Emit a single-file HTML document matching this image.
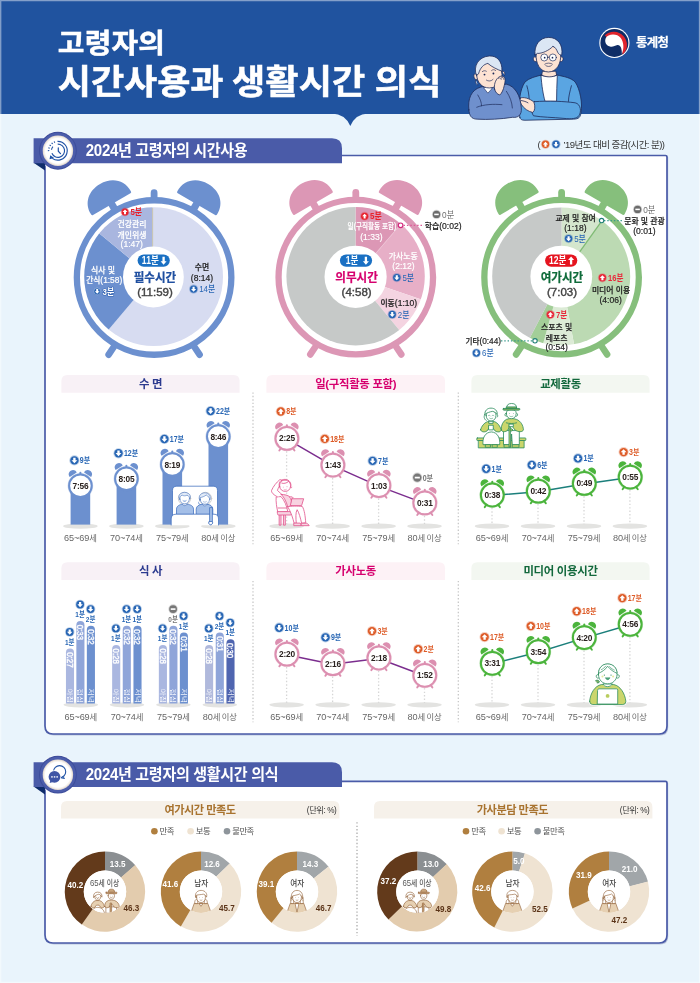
<!DOCTYPE html>
<html lang="ko"><head><meta charset="utf-8"><title>고령자의 시간사용과 생활시간 의식</title>
<style>
html,body{margin:0;padding:0;background:#e9f4fc;}
body{width:700px;height:983px;overflow:hidden;position:relative;font-family:"Liberation Sans","Noto Sans CJK KR",sans-serif;}
svg{display:block;position:absolute;left:0;top:0;}
svg text{font-family:"Liberation Sans","Noto Sans CJK KR",sans-serif;}
</style></head><body>
<svg width="700" height="983" viewBox="0 0 700 983">
<rect x="0" y="0" width="700" height="983" fill="#e9f4fc"/>
<rect x="0" y="0" width="700" height="114" fill="#20539f"/>
<path d="M332 113.6H368Q355.6 114 350.3 126Q345 114 332 113.6Z" fill="#20539f"/>
<text transform="translate(57.80 53.20) scale(1.05 1)" font-size="27.6" fill="#fff" font-weight="bold" text-anchor="start" letter-spacing="0.2" stroke="#fff" stroke-width="0.5">고령자의</text>
<text transform="translate(57.80 94.40) scale(1.05 1)" font-size="34.4" fill="#fff" font-weight="bold" text-anchor="start" letter-spacing="-0.1" stroke="#fff" stroke-width="0.5">시간사용과</text>
<text transform="translate(232.00 94.40) scale(1.05 1)" font-size="34.4" fill="#fff" font-weight="bold" text-anchor="start" letter-spacing="0.1" stroke="#fff" stroke-width="0.5">생활시간</text>
<text transform="translate(374.80 94.40) scale(1.05 1)" font-size="34.4" fill="#fff" font-weight="bold" text-anchor="start" letter-spacing="0.3" stroke="#fff" stroke-width="0.5">의식</text>
<g transform="translate(614.4 42.9)"><circle r="15.1" fill="#fff"/><circle r="14" fill="#0f2d66"/><path d="M-9.6 -7.6A12.4 12.4 0 0 1 8.4 11.6L6 2L-6 -4Z" fill="#e0242c"/><path d="M-8.6 -4.8C-6.6 -9.4 2.6 -10 6.4 -5C9.6 -0.4 9.8 6.2 7.4 11C7.8 5.4 6 1.8 3 2.2C0.8 2.6 -1 4 -3.6 3.8C-8 3.4 -10.4 -0.8 -8.6 -4.8Z" fill="#fff"/></g>
<text x="636.00" y="47.40" font-size="12.4" fill="#fff" font-weight="bold" text-anchor="start" letter-spacing="-0.6" stroke="#fff" stroke-width="0.2">통계청</text>
<g transform="translate(460 30) scale(0.18571)" stroke="#1b2857" stroke-width="4.2" stroke-linejoin="round" stroke-linecap="round">
<!-- man body -->
<path d="M322 470C312 400 322 320 350 280C372 258 410 250 440 242L520 242C560 250 600 258 620 280C648 320 660 400 652 440C650 470 640 480 610 480L350 486C332 486 324 482 322 470Z" fill="#5aa5e2"/>
<path d="M436 244C440 300 448 350 458 384L520 384C520 340 522 290 524 244C500 252 460 252 436 244Z" fill="#fff"/>
<path d="M440 242L444 222H516L520 242C500 256 460 256 440 242Z" fill="#fde3d3"/>
<path d="M360 300C368 330 372 350 372 372M600 300C592 330 584 360 584 384" fill="none"/>
<path d="M400 386C480 380 560 384 620 392C650 398 656 440 640 462C630 478 600 480 560 476C500 470 440 470 396 462C380 440 382 400 400 386Z" fill="#5aa5e2"/>
<path d="M326 366C340 360 372 366 398 388C406 410 404 436 392 444C370 440 344 424 330 400C322 388 320 374 326 366Z" fill="#fde3d3"/>
<path d="M330 380C344 382 356 386 366 392" fill="none"/>
<!-- man head -->
<path d="M408 146C400 140 392 150 396 162C400 172 408 172 412 168M542 146C550 140 558 150 554 162C550 172 542 172 538 168" fill="#fde3d3"/>
<path d="M410 130C410 100 440 86 476 86C512 86 542 100 542 130C546 180 520 226 476 226C432 226 406 180 410 130Z" fill="#fde3d3"/>
<path d="M404 134C398 80 430 40 478 40C526 40 556 80 548 134C540 136 532 132 526 120C520 104 512 92 500 88C480 110 440 128 416 126C412 130 408 134 404 134Z" fill="#dbe6f4"/>
<circle cx="454" cy="148" r="19" fill="#fff" stroke-width="3.6"/><circle cx="500" cy="148" r="19" fill="#fff" stroke-width="3.6"/>
<path d="M473 146H481" fill="none" stroke-width="3.4"/>
<circle cx="456" cy="149" r="4.6" fill="#1b2857" stroke="none"/><circle cx="498" cy="149" r="4.6" fill="#1b2857" stroke="none"/>
<path d="M456 184C464 176 490 176 498 184M462 192C470 198 484 198 492 192" fill="none" stroke-width="3.4"/>
<!-- woman body -->
<path d="M48 430C40 370 62 322 110 308L150 298L250 292C296 302 326 352 330 420C334 458 312 474 284 470C220 480 150 484 92 480C60 480 50 460 48 430Z" fill="#6f90cd"/>
<path d="M128 312L150 340L172 316L160 300Z" fill="#fff" stroke-width="3.4"/>
<path d="M90 416C130 400 180 398 226 402M96 350C110 372 116 392 116 408M250 330C270 360 280 390 282 420" fill="none" stroke-width="3.6"/>
<!-- woman head -->
<path d="M84 236C74 232 72 250 78 260C84 270 92 268 96 264M228 224C238 218 244 232 240 244" fill="#fde3d3"/>
<path d="M90 240C90 200 118 178 156 178C194 178 224 198 226 240C228 282 198 312 158 312C118 312 90 282 90 240Z" fill="#fde3d3"/>
<path d="M88 242C70 200 96 144 158 140C200 138 228 168 226 222C204 214 170 198 150 180C128 184 108 204 100 236C96 240 92 242 88 242Z" fill="#dbe6f4"/>
<path d="M86 270C80 280 84 292 96 296" fill="#dbe6f4"/>
<circle cx="132" cy="240" r="5" fill="#1b2857" stroke="none"/><circle cx="180" cy="234" r="5" fill="#1b2857" stroke="none"/>
<path d="M120 224C126 218 136 218 142 222M170 218C176 212 186 212 192 218M142 270C152 278 170 276 178 266" fill="none" stroke-width="3.4"/>
<!-- hand on cheek -->
<path d="M186 318C182 296 190 270 206 256C214 248 226 246 236 252C246 260 244 280 238 300C234 320 226 340 214 350C200 346 190 334 186 318Z" fill="#fde3d3"/>
<path d="M206 262C212 254 220 256 222 266M222 258C228 252 236 256 236 266" fill="none" stroke-width="3.2"/>
</g>
<g>
<text x="537.50" y="148.20" font-size="9.5" fill="#333" font-weight="normal" text-anchor="start" >(</text>
<g transform="translate(545.50 144.30)"><circle r="4.60" fill="#dd5b27" opacity="0.3"/><circle r="3.70" fill="#dd5b27"/><path transform="scale(0.860)" d="M0 -3L3 0.2H1.2V2.8H-1.2V0.2H-3Z" fill="#fff"/></g>
<g transform="translate(556.00 144.30)"><circle r="4.60" fill="#2866b4" opacity="0.3"/><circle r="3.70" fill="#2866b4"/><path transform="scale(0.860)" d="M0 3L3 -0.2H1.2V-2.8H-1.2V-0.2H-3Z" fill="#fff"/></g>
<text x="563.50" y="148.20" font-size="9.5" fill="#333" font-weight="normal" text-anchor="start" letter-spacing="-0.55" >’19년도 대비 증감(시간: 분))</text>
</g>
<path d="M47.7 156.1H666.7Q668.2 156.1 668.2 157.6V727.4Q668.2 735.4 660.2 735.4H54.2Q46.2 735.4 46.2 727.4V157.6Q46.2 156.1 47.7 156.1Z" fill="#8f98bd" opacity="0.5"/><path d="M46.5 155.5H665.5Q667 155.5 667 157.0V726Q667 734 659 734H53Q45 734 45 726V157.0Q45 155.5 46.5 155.5Z" fill="#fff" stroke="#4a5ba8" stroke-width="1.7"/>
<circle cx="57.900000000000006" cy="150.75" r="19.8" fill="#fff" opacity="0.6"/><path d="M33.6 162.7H45.0V170.6Z" fill="#0f2c6b"/><path d="M33.6 138.3H332Q342 138.3 342 148.3V163.2H33.6Z" fill="#4a5ba8"/><text transform="translate(85.80 156.35) scale(0.93 1)" font-size="16.2" fill="#fff" font-weight="bold" text-anchor="start" letter-spacing="-0.35" >2024년 고령자의 시간사용</text><circle cx="57.900000000000006" cy="150.75" r="18.9" fill="#3d4d9b"/><circle cx="57.900000000000006" cy="150.75" r="17.9" fill="#4c5dab"/><circle cx="57.900000000000006" cy="150.75" r="15.2" fill="#e6ddd3"/><circle cx="57.900000000000006" cy="150.75" r="14.2" fill="#f6f2ee"/><circle cx="57.900000000000006" cy="150.75" r="13" fill="#fff"/><g transform="translate(57.900000000000006 150.75)"><path d="M-0.4 -9.4A9.4 9.4 0 1 1 -5.6 7.6" fill="none" stroke="#2153a6" stroke-width="1.15"/><path d="M-0.2 -6.6A6.6 6.6 0 1 1 -6 2.6" fill="none" stroke="#2153a6" stroke-width="1.15"/><path d="M-9.3 0.4A9.4 9.4 0 0 1 -2.4 -9" fill="none" stroke="#2153a6" stroke-width="1.5" stroke-dasharray="1.1 1.6"/><path d="M-6.4 -1A6.6 6.6 0 0 1 -5 -4.2" fill="none" stroke="#2153a6" stroke-width="1.15"/><path d="M-8.4 8.6L-7.6 4.4L-3.8 7.2Z" fill="#2153a6"/><path d="M0.4 -2.8V0.4L2.6 2.8" fill="none" stroke="#2153a6" stroke-width="1.2" stroke-linecap="round"/></g>
<path d="M47.7 782.0H666.7Q668.2 782.0 668.2 783.5V936.4Q668.2 944.4 660.2 944.4H54.2Q46.2 944.4 46.2 936.4V783.5Q46.2 782.0 47.7 782.0Z" fill="#8f98bd" opacity="0.5"/><path d="M46.5 781.4H665.5Q667 781.4 667 782.9V935Q667 943 659 943H53Q45 943 45 935V782.9Q45 781.4 46.5 781.4Z" fill="#fff" stroke="#4a5ba8" stroke-width="1.7"/>
<circle cx="57.900000000000006" cy="774.7" r="19.8" fill="#fff" opacity="0.6"/><path d="M33.6 786.6H45.0V794.5Z" fill="#0f2c6b"/><path d="M33.6 762.3H332Q342 762.3 342 772.3V787.1H33.6Z" fill="#4a5ba8"/><text transform="translate(85.80 780.30) scale(0.93 1)" font-size="16.2" fill="#fff" font-weight="bold" text-anchor="start" letter-spacing="-0.35" >2024년 고령자의 생활시간 의식</text><circle cx="57.900000000000006" cy="774.7" r="18.9" fill="#3d4d9b"/><circle cx="57.900000000000006" cy="774.7" r="17.9" fill="#4c5dab"/><circle cx="57.900000000000006" cy="774.7" r="15.2" fill="#e6ddd3"/><circle cx="57.900000000000006" cy="774.7" r="14.2" fill="#f6f2ee"/><circle cx="57.900000000000006" cy="774.7" r="13" fill="#fff"/><g transform="translate(57.900000000000006 774.7)"><circle cx="1.7" cy="-3" r="6.1" fill="#fff" stroke="#2153a6" stroke-width="1.1"/><path d="M5.2 2L6.6 3.8L3.6 3.2Z" fill="#fff" stroke="#2153a6" stroke-width="1" stroke-linejoin="round"/><circle cx="-3.4" cy="2.1" r="6.6" fill="#fff"/><circle cx="-3.4" cy="2.1" r="5.9" fill="#3f55a6"/><path d="M-7.6 5.6L-8.2 8.4L-5 7.2Z" fill="#3f55a6"/><rect x="-6.7" y="1.5" width="1.5" height="1.4" fill="#fff"/><rect x="-4.1" y="1.5" width="1.5" height="1.4" fill="#fff"/><rect x="-1.5" y="1.5" width="1.5" height="1.4" fill="#fff"/></g>
<line x1="115.40" y1="344.53" x2="108.62" y2="354.70" stroke="#6c90cf" stroke-width="6.6" stroke-linecap="round"/><line x1="192.80" y1="344.53" x2="199.58" y2="354.70" stroke="#6c90cf" stroke-width="6.6" stroke-linecap="round"/><line x1="114.90" y1="209.60" x2="110.40" y2="201.81" stroke="#6c90cf" stroke-width="7.2"/><g transform="translate(111.75 204.15) rotate(-30)"><path d="M-21.6 0H21.6Q23 0 23 -1.6C23.4 -14.6 13.6 -23.4 0 -23.4C-13.6 -23.4 -23.4 -14.6 -23 -1.6Q-23 0 -21.6 0Z" fill="#6c90cf"/></g><line x1="193.30" y1="209.60" x2="197.80" y2="201.81" stroke="#6c90cf" stroke-width="7.2"/><g transform="translate(196.45 204.15) rotate(30)"><path d="M-21.6 0H21.6Q23 0 23 -1.6C23.4 -14.6 13.6 -23.4 0 -23.4C-13.6 -23.4 -23.4 -14.6 -23 -1.6Q-23 0 -21.6 0Z" fill="#6c90cf"/></g><line x1="154.1" y1="199.1" x2="154.1" y2="192.7" stroke="#6c90cf" stroke-width="6.8" stroke-linecap="round"/><circle cx="154.1" cy="277.5" r="77.25" fill="#fff" stroke="#6c90cf" stroke-width="6.3"/>
<clipPath id="pc1"><circle cx="153.6" cy="276.6" r="69.4"/></clipPath><g clip-path="url(#pc1)"><path d="M152.60 277.60L152.60 166.56A111.04000000000002 111.04000000000002 0 1 1 80.93 362.41Z" fill="#d7dcf1" /><path d="M152.60 277.60L80.93 362.41A111.04000000000002 111.04000000000002 0 0 1 67.17 206.67Z" fill="#6c90cf" /><path d="M152.60 277.60L67.17 206.67A111.04000000000002 111.04000000000002 0 0 1 152.60 166.56Z" fill="#a9b6df" /></g>
<line x1="152.6" y1="208.1" x2="152.6" y2="248.5" stroke="#c9c6b4" stroke-width="1.1"/>
<circle cx="153.4" cy="277.0" r="30.4" fill="#fff"/>
<rect x="137.60" y="254.45" width="32.2" height="12.3" rx="6.15" fill="#1a70c3"/><text transform="translate(150.30 264.20) scale(0.83 1)" font-size="10.3" fill="#fff" font-weight="bold" text-anchor="middle" letter-spacing="0" >11분</text><path transform="translate(163.60 260.60)" d="M0 4.2L3 0.6H1.15V-3.9H-1.15V0.6H-3Z" fill="#fff"/>
<text transform="translate(155.00 282.00) scale(0.94 1)" font-size="12.3" fill="#1f4fa0" font-weight="bold" text-anchor="middle" letter-spacing="0" stroke="#1f4fa0" stroke-width="0.25">필수시간</text><text transform="translate(155.00 296.30) scale(1.03 1)" font-size="11.2" fill="#444" font-weight="normal" text-anchor="middle" letter-spacing="0" stroke="#444" stroke-width="0.4">(11:59)</text>
<g transform="translate(125.00 211.90)"><circle r="4.40" fill="#e8212b" opacity="0.3"/><circle r="3.50" fill="#e8212b"/><path transform="scale(0.814)" d="M0 -3L3 0.2H1.2V2.8H-1.2V0.2H-3Z" fill="#fff"/></g><text transform="translate(130.40 215.07) scale(0.9 1)" font-size="8.8" fill="#e8212b" font-weight="bold" text-anchor="start" letter-spacing="0" >5분</text>
<text transform="translate(132.00 227.13) scale(0.94 1)" font-size="8.35" fill="#fff" font-weight="500" text-anchor="middle" letter-spacing="0" stroke="#fff" stroke-width="0.2">건강관리</text>
<text transform="translate(132.00 237.53) scale(0.94 1)" font-size="8.35" fill="#fff" font-weight="500" text-anchor="middle" letter-spacing="0" stroke="#fff" stroke-width="0.2">개인위생</text>
<text transform="translate(131.70 247.17) scale(0.94 1)" font-size="9.1" fill="#fff" font-weight="500" text-anchor="middle" letter-spacing="0" stroke="#fff" stroke-width="0.2">(1:47)</text>
<text transform="translate(103.00 272.53) scale(0.94 1)" font-size="8.35" fill="#fff" font-weight="500" text-anchor="middle" letter-spacing="0" stroke="#fff" stroke-width="0.2">식사 및</text>
<text transform="translate(104.20 283.43) scale(0.92 1)" font-size="8.35" fill="#fff" font-weight="500" text-anchor="middle" letter-spacing="0" stroke="#fff" stroke-width="0.2">간식<tspan font-size="9.10">(1:58)</tspan></text>
<g transform="translate(97.20 291.40)"><circle r="3.50" fill="#2660b0"/><path transform="scale(0.814)" d="M0 3L3 -0.2H1.2V-2.8H-1.2V-0.2H-3Z" fill="#fff"/></g><circle cx="97.2" cy="291.4" r="3.4" fill="none" stroke="#fff" stroke-opacity="0.55" stroke-width="0.6"/>
<text transform="translate(102.60 294.60) scale(0.9 1)" font-size="8.8" fill="#fff" font-weight="bold" text-anchor="start" stroke="#3564b0" stroke-width="1.1" paint-order="stroke" stroke-linejoin="round">3분</text>
<text transform="translate(202.00 270.13) scale(0.94 1)" font-size="8.35" fill="#222" font-weight="500" text-anchor="middle" letter-spacing="0" stroke="#222" stroke-width="0.2">수면</text>
<text transform="translate(202.00 280.77) scale(0.94 1)" font-size="9.1" fill="#222" font-weight="500" text-anchor="middle" letter-spacing="0" stroke="#222" stroke-width="0.2">(8:14)</text>
<g transform="translate(193.60 289.10)"><circle r="4.60" fill="#2866b4" opacity="0.3"/><circle r="3.70" fill="#2866b4"/><path transform="scale(0.860)" d="M0 3L3 -0.2H1.2V-2.8H-1.2V-0.2H-3Z" fill="#fff"/></g><text transform="translate(199.20 292.27) scale(0.9 1)" font-size="8.8" fill="#2866b4" font-weight="500" text-anchor="start" letter-spacing="0" >14분</text>
<line x1="317.10" y1="344.23" x2="310.32" y2="354.40" stroke="#dc97b5" stroke-width="6.6" stroke-linecap="round"/><line x1="394.50" y1="344.23" x2="401.28" y2="354.40" stroke="#dc97b5" stroke-width="6.6" stroke-linecap="round"/><line x1="316.60" y1="209.30" x2="312.10" y2="201.51" stroke="#dc97b5" stroke-width="7.2"/><g transform="translate(313.45 203.85) rotate(-30)"><path d="M-21.6 0H21.6Q23 0 23 -1.6C23.4 -14.6 13.6 -23.4 0 -23.4C-13.6 -23.4 -23.4 -14.6 -23 -1.6Q-23 0 -21.6 0Z" fill="#dc97b5"/></g><line x1="395.00" y1="209.30" x2="399.50" y2="201.51" stroke="#dc97b5" stroke-width="7.2"/><g transform="translate(398.15 203.85) rotate(30)"><path d="M-21.6 0H21.6Q23 0 23 -1.6C23.4 -14.6 13.6 -23.4 0 -23.4C-13.6 -23.4 -23.4 -14.6 -23 -1.6Q-23 0 -21.6 0Z" fill="#dc97b5"/></g><line x1="355.8" y1="198.79999999999998" x2="355.8" y2="192.39999999999998" stroke="#dc97b5" stroke-width="6.8" stroke-linecap="round"/><circle cx="355.8" cy="277.2" r="77.25" fill="#fff" stroke="#dc97b5" stroke-width="6.3"/>
<clipPath id="pc2"><circle cx="355.6" cy="276.2" r="69.2"/></clipPath><g clip-path="url(#pc2)"><path d="M355.50 277.00L355.50 166.28A110.72000000000001 110.72000000000001 0 0 1 427.55 192.93Z" fill="#dc97b5" /><path d="M355.50 277.00L427.55 192.93A110.72000000000001 110.72000000000001 0 0 1 460.25 312.86Z" fill="#e7afc7" /><path d="M355.50 277.00L460.25 312.86A110.72000000000001 110.72000000000001 0 0 1 425.93 362.43Z" fill="#f4d4e1" /><path d="M355.50 277.00L425.93 362.43A110.72000000000001 110.72000000000001 0 1 1 355.50 166.28Z" fill="#c6c9c8" /></g>
<line x1="355.5" y1="277" x2="400.40" y2="224.61" stroke="#ecc3d4" stroke-width="0.8"/>
<circle cx="355.6" cy="276.8" r="31.1" fill="#fff"/>
<rect x="339.90" y="254.45" width="32.2" height="12.3" rx="6.15" fill="#1a70c3"/><text transform="translate(352.10 264.20) scale(0.83 1)" font-size="10.3" fill="#fff" font-weight="bold" text-anchor="middle" letter-spacing="0" >1분</text><path transform="translate(365.90 260.60)" d="M0 4.2L3 0.6H1.15V-3.9H-1.15V0.6H-3Z" fill="#fff"/>
<text transform="translate(356.60 282.00) scale(0.94 1)" font-size="12.3" fill="#d6006e" font-weight="bold" text-anchor="middle" letter-spacing="0" stroke="#d6006e" stroke-width="0.25">의무시간</text><text transform="translate(356.60 296.30) scale(1.03 1)" font-size="11.2" fill="#444" font-weight="normal" text-anchor="middle" letter-spacing="0" stroke="#444" stroke-width="0.4">(4:58)</text>
<g transform="translate(364.60 216.20)"><circle r="4.40" fill="#e8212b" opacity="0.3"/><circle r="3.50" fill="#e8212b"/><path transform="scale(0.814)" d="M0 -3L3 0.2H1.2V2.8H-1.2V0.2H-3Z" fill="#fff"/></g><text transform="translate(370.00 219.37) scale(0.9 1)" font-size="8.8" fill="#e8212b" font-weight="bold" text-anchor="start" letter-spacing="0" >5분</text>
<text transform="translate(372.00 229.47) scale(0.8 1)" font-size="8.2" fill="#fff" font-weight="500" text-anchor="middle" letter-spacing="0" stroke="#fff" stroke-width="0.2">일<tspan font-size="8.94">(</tspan>구직활동 포함<tspan font-size="8.94">)</tspan></text>
<text transform="translate(371.40 239.77) scale(0.94 1)" font-size="9.1" fill="#fff" font-weight="500" text-anchor="middle" letter-spacing="0" stroke="#fff" stroke-width="0.2">(1:33)</text>
<text transform="translate(403.20 259.43) scale(0.94 1)" font-size="8.35" fill="#fff" font-weight="500" text-anchor="middle" letter-spacing="0" stroke="#fff" stroke-width="0.2">가사노동</text>
<text transform="translate(403.50 268.97) scale(0.94 1)" font-size="9.1" fill="#fff" font-weight="500" text-anchor="middle" letter-spacing="0" stroke="#fff" stroke-width="0.2">(2:12)</text>
<g transform="translate(396.80 277.60)"><circle r="4.60" fill="#2866b4" opacity="0.3"/><circle r="3.70" fill="#2866b4"/><path transform="scale(0.860)" d="M0 3L3 -0.2H1.2V-2.8H-1.2V-0.2H-3Z" fill="#fff"/></g><text transform="translate(402.40 280.77) scale(0.9 1)" font-size="8.8" fill="#2866b4" font-weight="500" text-anchor="start" letter-spacing="0" >5분</text>
<text transform="translate(398.80 305.93) scale(0.94 1)" font-size="8.35" fill="#222" font-weight="500" text-anchor="middle" letter-spacing="0" stroke="#222" stroke-width="0.2">이동<tspan font-size="9.10">(1:10)</tspan></text>
<g transform="translate(392.20 314.50)"><circle r="4.60" fill="#2866b4" opacity="0.3"/><circle r="3.70" fill="#2866b4"/><path transform="scale(0.860)" d="M0 3L3 -0.2H1.2V-2.8H-1.2V-0.2H-3Z" fill="#fff"/></g><text transform="translate(397.80 317.67) scale(0.9 1)" font-size="8.8" fill="#2866b4" font-weight="500" text-anchor="start" letter-spacing="0" >2분</text>
<line x1="403.5" y1="225.3" x2="424" y2="225.3" stroke="#dd5a98" stroke-width="1.3" stroke-dasharray="1.5 1.9"/>
<circle cx="400.6" cy="225.3" r="2.3" fill="#fff" stroke="#d3267c" stroke-width="1.1"/>
<g transform="translate(436.50 214.40)"><circle r="4.60" fill="#6c6c6c" opacity="0.3"/><circle r="3.70" fill="#6c6c6c"/><rect x="-2.24" y="-0.77" width="4.47" height="1.55" fill="#fff"/></g><text transform="translate(442.10 217.78) scale(0.88 1)" font-size="9.4" fill="#707070" font-weight="normal" text-anchor="start" letter-spacing="0" >0분</text>
<text transform="translate(443.20 229.13) scale(0.94 1)" font-size="8.35" fill="#222" font-weight="500" text-anchor="middle" letter-spacing="0" stroke="#222" stroke-width="0.2">학습<tspan font-size="9.10">(0:02)</tspan></text>
<line x1="522.90" y1="344.23" x2="516.12" y2="354.40" stroke="#86bf7c" stroke-width="6.6" stroke-linecap="round"/><line x1="600.30" y1="344.23" x2="607.08" y2="354.40" stroke="#86bf7c" stroke-width="6.6" stroke-linecap="round"/><line x1="522.40" y1="209.30" x2="517.90" y2="201.51" stroke="#86bf7c" stroke-width="7.2"/><g transform="translate(519.25 203.85) rotate(-30)"><path d="M-21.6 0H21.6Q23 0 23 -1.6C23.4 -14.6 13.6 -23.4 0 -23.4C-13.6 -23.4 -23.4 -14.6 -23 -1.6Q-23 0 -21.6 0Z" fill="#86bf7c"/></g><line x1="600.80" y1="209.30" x2="605.30" y2="201.51" stroke="#86bf7c" stroke-width="7.2"/><g transform="translate(603.95 203.85) rotate(30)"><path d="M-21.6 0H21.6Q23 0 23 -1.6C23.4 -14.6 13.6 -23.4 0 -23.4C-13.6 -23.4 -23.4 -14.6 -23 -1.6Q-23 0 -21.6 0Z" fill="#86bf7c"/></g><line x1="561.6" y1="198.79999999999998" x2="561.6" y2="192.39999999999998" stroke="#86bf7c" stroke-width="6.8" stroke-linecap="round"/><circle cx="561.6" cy="277.2" r="77.25" fill="#fff" stroke="#86bf7c" stroke-width="6.3"/>
<clipPath id="pc3"><circle cx="561.2" cy="276.4" r="69.0"/></clipPath><g clip-path="url(#pc3)"><path d="M561.60 277.00L561.60 166.60A110.4 110.4 0 0 1 625.71 187.12Z" fill="#d4e6cd" /><path d="M561.60 277.00L625.71 187.12A110.4 110.4 0 0 1 581.72 385.55Z" fill="#bcdab3" /><path d="M561.60 277.00L581.72 385.55A110.4 110.4 0 0 1 532.10 383.38Z" fill="#dcebd6" /><path d="M561.60 277.00L532.10 383.38A110.4 110.4 0 0 1 510.45 374.84Z" fill="#a3ce98" /><path d="M561.60 277.00L510.62 374.93A110.4 110.4 0 0 1 561.60 166.60Z" fill="#c6c9c8" /></g>
<line x1="561.6" y1="277.2" x2="601.67" y2="221.03" stroke="#7fbb74" stroke-width="1.3"/>
<circle cx="561.3" cy="276.6" r="30.9" fill="#fff"/>
<rect x="545.10" y="254.45" width="32.2" height="12.3" rx="6.15" fill="#e5141f"/><text transform="translate(557.80 264.20) scale(0.83 1)" font-size="10.3" fill="#fff" font-weight="bold" text-anchor="middle" letter-spacing="0" >12분</text><path transform="translate(571.10 260.60)" d="M0 -4.2L3 -0.6H1.15V3.9H-1.15V-0.6H-3Z" fill="#fff"/>
<text transform="translate(562.00 282.00) scale(0.94 1)" font-size="12.3" fill="#0f6b3a" font-weight="bold" text-anchor="middle" letter-spacing="0" stroke="#0f6b3a" stroke-width="0.25">여가시간</text><text transform="translate(562.00 296.30) scale(1.03 1)" font-size="11.2" fill="#444" font-weight="normal" text-anchor="middle" letter-spacing="0" stroke="#444" stroke-width="0.4">(7:03)</text>
<text transform="translate(575.60 220.73) scale(0.94 1)" font-size="8.35" fill="#222" font-weight="500" text-anchor="middle" letter-spacing="0" stroke="#222" stroke-width="0.2">교제 및 참여</text>
<text transform="translate(575.40 230.77) scale(0.94 1)" font-size="9.1" fill="#222" font-weight="500" text-anchor="middle" letter-spacing="0" stroke="#222" stroke-width="0.2">(1:18)</text>
<g transform="translate(568.60 238.60)"><circle r="4.60" fill="#2866b4" opacity="0.3"/><circle r="3.70" fill="#2866b4"/><path transform="scale(0.860)" d="M0 3L3 -0.2H1.2V-2.8H-1.2V-0.2H-3Z" fill="#fff"/></g><text transform="translate(574.20 241.77) scale(0.9 1)" font-size="8.8" fill="#2866b4" font-weight="500" text-anchor="start" letter-spacing="0" >5분</text>
<g transform="translate(602.40 277.80)"><circle r="4.60" fill="#e8283a" opacity="0.3"/><circle r="3.70" fill="#e8283a"/><path transform="scale(0.860)" d="M0 -3L3 0.2H1.2V2.8H-1.2V0.2H-3Z" fill="#fff"/></g><text transform="translate(608.00 280.97) scale(0.86 1)" font-size="8.8" fill="#e8283a" font-weight="bold" text-anchor="start" letter-spacing="0" >16분</text>
<text transform="translate(611.00 292.73) scale(0.94 1)" font-size="8.35" fill="#222" font-weight="500" text-anchor="middle" letter-spacing="0" stroke="#222" stroke-width="0.2">미디어 이용</text>
<text transform="translate(610.60 302.97) scale(0.94 1)" font-size="9.1" fill="#222" font-weight="500" text-anchor="middle" letter-spacing="0" stroke="#222" stroke-width="0.2">(4:06)</text>
<g transform="translate(550.40 314.60)"><circle r="4.60" fill="#e8283a" opacity="0.3"/><circle r="3.70" fill="#e8283a"/><path transform="scale(0.860)" d="M0 -3L3 0.2H1.2V2.8H-1.2V0.2H-3Z" fill="#fff"/></g><text transform="translate(556.00 317.77) scale(0.86 1)" font-size="8.8" fill="#e8283a" font-weight="bold" text-anchor="start" letter-spacing="0" >7분</text>
<text transform="translate(556.60 329.53) scale(0.94 1)" font-size="8.35" fill="#222" font-weight="500" text-anchor="middle" letter-spacing="0" stroke="#222" stroke-width="0.2">스포츠 및</text>
<text transform="translate(556.60 340.53) scale(0.94 1)" font-size="8.35" fill="#222" font-weight="500" text-anchor="middle" letter-spacing="0" stroke="#222" stroke-width="0.2">레포츠</text>
<text transform="translate(556.60 350.17) scale(0.94 1)" font-size="9.1" fill="#222" font-weight="500" text-anchor="middle" letter-spacing="0" stroke="#222" stroke-width="0.2">(0:54)</text>
<line x1="604" y1="220.6" x2="622" y2="220.6" stroke="#3a9a8c" stroke-width="1.3" stroke-dasharray="1.4 1.9"/>
<circle cx="601.6" cy="220.6" r="2.2" fill="#fff" stroke="#1f7f76" stroke-width="1.1"/>
<g transform="translate(637.60 209.40)"><circle r="4.60" fill="#6c6c6c" opacity="0.3"/><circle r="3.70" fill="#6c6c6c"/><rect x="-2.24" y="-0.77" width="4.47" height="1.55" fill="#fff"/></g><text transform="translate(643.20 212.78) scale(0.88 1)" font-size="9.4" fill="#707070" font-weight="normal" text-anchor="start" letter-spacing="0" >0분</text>
<text transform="translate(644.40 224.13) scale(0.94 1)" font-size="8.35" fill="#222" font-weight="500" text-anchor="middle" letter-spacing="0" stroke="#222" stroke-width="0.2">문화 및 관광</text>
<text transform="translate(644.40 234.37) scale(0.94 1)" font-size="9.1" fill="#222" font-weight="500" text-anchor="middle" letter-spacing="0" stroke="#222" stroke-width="0.2">(0:01)</text>
<line x1="501" y1="340.8" x2="532" y2="340.8" stroke="#3a9a8c" stroke-width="1.3" stroke-dasharray="1.4 1.9"/>
<circle cx="535" cy="340.8" r="2.2" fill="#fff" stroke="#1f7f76" stroke-width="1.1"/>
<text transform="translate(483.20 344.13) scale(0.91 1)" font-size="8.35" fill="#222" font-weight="500" text-anchor="middle" letter-spacing="0" stroke="#222" stroke-width="0.2">기타<tspan font-size="9.10">(0:44)</tspan></text>
<g transform="translate(476.40 353.00)"><circle r="4.60" fill="#2866b4" opacity="0.3"/><circle r="3.70" fill="#2866b4"/><path transform="scale(0.860)" d="M0 3L3 -0.2H1.2V-2.8H-1.2V-0.2H-3Z" fill="#fff"/></g><text transform="translate(482.00 356.17) scale(0.9 1)" font-size="8.8" fill="#2866b4" font-weight="500" text-anchor="start" letter-spacing="0" >6분</text>
<line x1="253.0" y1="392.4" x2="253.0" y2="544.2" stroke="#c4c4c4" stroke-width="1.2" stroke-dasharray="1.4 2.03"/>
<line x1="253.0" y1="580.9" x2="253.0" y2="722.2" stroke="#c4c4c4" stroke-width="1.2" stroke-dasharray="1.4 2.03"/>
<line x1="458.3" y1="392.4" x2="458.3" y2="544.2" stroke="#c4c4c4" stroke-width="1.2" stroke-dasharray="1.4 2.03"/>
<line x1="458.3" y1="580.9" x2="458.3" y2="722.2" stroke="#c4c4c4" stroke-width="1.2" stroke-dasharray="1.4 2.03"/>
<path d="M61.4 392.8V381Q61.4 375 67.4 375H233.6Q239.6 375 239.6 381V392.8Z" fill="#f8f1f6"/><text x="150.50" y="388.00" font-size="11.4" fill="#2b3a8f" font-weight="bold" text-anchor="middle" letter-spacing="-0.3" >수 면</text>
<path d="M266.4 392.8V381Q266.4 375 272.4 375H439Q445 375 445 381V392.8Z" fill="#fdf2f6"/><text x="355.70" y="388.00" font-size="11.4" fill="#d6006e" font-weight="bold" text-anchor="middle" letter-spacing="-0.3" >일(구직활동 포함)</text>
<path d="M471.4 392.8V381Q471.4 375 477.4 375H643.6Q649.6 375 649.6 381V392.8Z" fill="#f3f7f1"/><text x="560.50" y="388.00" font-size="11.4" fill="#12683c" font-weight="bold" text-anchor="middle" letter-spacing="-0.3" >교제활동</text>
<ellipse cx="80.4" cy="526.2" rx="17.25" ry="2.6" fill="#e3e3e1"/><text x="80.40" y="541.40" font-size="8.3" fill="#666" text-anchor="middle" letter-spacing="-0.1" word-spacing="-0.8"><tspan font-size="9.13">65~69</tspan>세</text><ellipse cx="126.4" cy="526.2" rx="17.25" ry="2.6" fill="#e3e3e1"/><text x="126.40" y="541.40" font-size="8.3" fill="#666" text-anchor="middle" letter-spacing="-0.1" word-spacing="-0.8"><tspan font-size="9.13">70~74</tspan>세</text><ellipse cx="172.3" cy="526.2" rx="17.25" ry="2.6" fill="#e3e3e1"/><text x="172.30" y="541.40" font-size="8.3" fill="#666" text-anchor="middle" letter-spacing="-0.1" word-spacing="-0.8"><tspan font-size="9.13">75~79</tspan>세</text><ellipse cx="218.3" cy="526.2" rx="17.25" ry="2.6" fill="#e3e3e1"/><text x="218.30" y="541.40" font-size="8.3" fill="#666" text-anchor="middle" letter-spacing="-0.1" word-spacing="-0.8"><tspan font-size="9.13">80</tspan>세 이상</text>
<ellipse cx="286.6" cy="526.2" rx="17.25" ry="2.6" fill="#e3e3e1"/><text x="286.60" y="541.40" font-size="8.3" fill="#666" text-anchor="middle" letter-spacing="-0.1" word-spacing="-0.8"><tspan font-size="9.13">65~69</tspan>세</text><ellipse cx="332.6" cy="526.2" rx="17.25" ry="2.6" fill="#e3e3e1"/><text x="332.60" y="541.40" font-size="8.3" fill="#666" text-anchor="middle" letter-spacing="-0.1" word-spacing="-0.8"><tspan font-size="9.13">70~74</tspan>세</text><ellipse cx="378.6" cy="526.2" rx="17.25" ry="2.6" fill="#e3e3e1"/><text x="378.60" y="541.40" font-size="8.3" fill="#666" text-anchor="middle" letter-spacing="-0.1" word-spacing="-0.8"><tspan font-size="9.13">75~79</tspan>세</text><ellipse cx="424.5" cy="526.2" rx="17.25" ry="2.6" fill="#e3e3e1"/><text x="424.50" y="541.40" font-size="8.3" fill="#666" text-anchor="middle" letter-spacing="-0.1" word-spacing="-0.8"><tspan font-size="9.13">80</tspan>세 이상</text>
<ellipse cx="492.0" cy="526.2" rx="17.25" ry="2.6" fill="#e3e3e1"/><text x="492.00" y="541.40" font-size="8.3" fill="#666" text-anchor="middle" letter-spacing="-0.1" word-spacing="-0.8"><tspan font-size="9.13">65~69</tspan>세</text><ellipse cx="538.0" cy="526.2" rx="17.25" ry="2.6" fill="#e3e3e1"/><text x="538.00" y="541.40" font-size="8.3" fill="#666" text-anchor="middle" letter-spacing="-0.1" word-spacing="-0.8"><tspan font-size="9.13">70~74</tspan>세</text><ellipse cx="584.0" cy="526.2" rx="17.25" ry="2.6" fill="#e3e3e1"/><text x="584.00" y="541.40" font-size="8.3" fill="#666" text-anchor="middle" letter-spacing="-0.1" word-spacing="-0.8"><tspan font-size="9.13">75~79</tspan>세</text><ellipse cx="629.9" cy="526.2" rx="17.25" ry="2.6" fill="#e3e3e1"/><text x="629.90" y="541.40" font-size="8.3" fill="#666" text-anchor="middle" letter-spacing="-0.1" word-spacing="-0.8"><tspan font-size="9.13">80</tspan>세 이상</text>
<rect x="70.60" y="485.80" width="19.6" height="38.80" fill="#6c90cf"/>
<rect x="116.60" y="478.80" width="19.6" height="45.80" fill="#6c90cf"/>
<rect x="162.50" y="464.50" width="19.6" height="60.10" fill="#6c90cf"/>
<rect x="208.50" y="436.60" width="19.6" height="88.00" fill="#6c90cf"/>
<g transform="translate(160 478) scale(0.1)" stroke="#3d6dbc" stroke-width="7.5" stroke-linejoin="round" stroke-linecap="round">
<path d="M125 370V125Q125 82 168 82H532Q575 82 575 125V370Z" fill="#fff"/>
<circle cx="245" cy="205" r="62" fill="#fff" stroke="#c2c2c2" stroke-width="8"/>
<circle cx="455" cy="205" r="62" fill="#fff" stroke="#c2c2c2" stroke-width="8"/>
<path d="M165 358V312C165 280 195 266 225 262H272C305 266 335 280 335 312V358Z" fill="#a4bfe8"/>
<path d="M362 358V312C362 280 392 266 420 262H470C500 266 528 280 528 312V358Z" fill="#a4bfe8"/>
<path d="M222 262C232 282 262 282 272 262" fill="#fff"/>
<path d="M422 264C432 284 462 284 472 264" fill="#fff"/>
<path stroke-width="5.5" d="M198 210C190 170 210 150 246 150C282 150 300 170 294 210C290 240 272 258 246 258C220 258 202 240 198 210Z" fill="#fff"/>
<path stroke-width="5.5" d="M196 212C180 190 190 160 214 152C230 140 262 140 278 152C302 160 312 190 296 212C296 190 286 176 270 172C254 180 236 180 222 172C206 176 196 190 196 212Z" fill="#e1eaf7"/>
<path d="M228 226C236 238 256 238 264 226" fill="#a4bfe8" stroke-width="4"/>
<path stroke-width="5.5" d="M402 214C396 176 416 156 448 156C480 156 500 176 496 214C492 244 474 262 448 262C424 262 406 244 402 214Z" fill="#fff"/>
<path stroke-width="5.5" d="M398 222C380 190 400 150 448 148C494 148 514 186 498 220C496 196 480 180 462 170C446 184 420 192 404 196C400 204 398 214 398 222Z" fill="#e1eaf7"/>
<path d="M386 240C380 252 388 264 402 266" fill="#a4bfe8" stroke-width="4"/>
<path d="M432 236C440 244 456 244 464 236" fill="none" stroke-width="4"/>
<path d="M112 472V410Q112 362 160 362H540Q585 362 585 410V472Z" fill="#fff" stroke="none"/>
<path d="M112 470V410Q112 362 160 362H540Q585 362 585 410V470" fill="none"/>
<path d="M496 300V432C486 440 486 462 504 466C524 468 530 446 524 434V300Z" fill="#a4bfe8"/>
<path d="M488 440C484 456 494 468 506 468C520 468 530 456 524 438Z" fill="#fff"/>
</g>
<g transform="translate(73.21 474.73) rotate(-33)"><path d="M-4.2 0C-4.4 -3 -2.4 -4.6 0 -4.6C2.4 -4.6 4.4 -3 4.2 0Z" fill="#6c90cf"/></g><g transform="translate(87.59 474.73) rotate(33)"><path d="M-4.2 0C-4.4 -3 -2.4 -4.6 0 -4.6C2.4 -4.6 4.4 -3 4.2 0Z" fill="#6c90cf"/></g><line x1="80.4" y1="474.5" x2="80.4" y2="472.7" stroke="#6c90cf" stroke-width="2" stroke-linecap="round"/><circle cx="80.4" cy="485.8" r="12.80" fill="#6c90cf" opacity="0.35"/><circle cx="80.4" cy="485.8" r="11.30" fill="#fff" stroke="#6c90cf" stroke-width="2.0"/><text transform="translate(80.40 488.85) scale(0.95 1)" font-size="8.8" fill="#2b2320" font-weight="bold" text-anchor="middle" letter-spacing="-0.25" >7:56</text>
<g transform="translate(119.21 467.73) rotate(-33)"><path d="M-4.2 0C-4.4 -3 -2.4 -4.6 0 -4.6C2.4 -4.6 4.4 -3 4.2 0Z" fill="#6c90cf"/></g><g transform="translate(133.59 467.73) rotate(33)"><path d="M-4.2 0C-4.4 -3 -2.4 -4.6 0 -4.6C2.4 -4.6 4.4 -3 4.2 0Z" fill="#6c90cf"/></g><line x1="126.4" y1="467.5" x2="126.4" y2="465.7" stroke="#6c90cf" stroke-width="2" stroke-linecap="round"/><circle cx="126.4" cy="478.8" r="12.80" fill="#6c90cf" opacity="0.35"/><circle cx="126.4" cy="478.8" r="11.30" fill="#fff" stroke="#6c90cf" stroke-width="2.0"/><text transform="translate(126.40 481.85) scale(0.95 1)" font-size="8.8" fill="#2b2320" font-weight="bold" text-anchor="middle" letter-spacing="-0.25" >8:05</text>
<g transform="translate(165.11 453.43) rotate(-33)"><path d="M-4.2 0C-4.4 -3 -2.4 -4.6 0 -4.6C2.4 -4.6 4.4 -3 4.2 0Z" fill="#6c90cf"/></g><g transform="translate(179.49 453.43) rotate(33)"><path d="M-4.2 0C-4.4 -3 -2.4 -4.6 0 -4.6C2.4 -4.6 4.4 -3 4.2 0Z" fill="#6c90cf"/></g><line x1="172.3" y1="453.2" x2="172.3" y2="451.4" stroke="#6c90cf" stroke-width="2" stroke-linecap="round"/><circle cx="172.3" cy="464.5" r="12.80" fill="#6c90cf" opacity="0.35"/><circle cx="172.3" cy="464.5" r="11.30" fill="#fff" stroke="#6c90cf" stroke-width="2.0"/><text transform="translate(172.30 467.55) scale(0.95 1)" font-size="8.8" fill="#2b2320" font-weight="bold" text-anchor="middle" letter-spacing="-0.25" >8:19</text>
<g transform="translate(211.11 425.53) rotate(-33)"><path d="M-4.2 0C-4.4 -3 -2.4 -4.6 0 -4.6C2.4 -4.6 4.4 -3 4.2 0Z" fill="#6c90cf"/></g><g transform="translate(225.49 425.53) rotate(33)"><path d="M-4.2 0C-4.4 -3 -2.4 -4.6 0 -4.6C2.4 -4.6 4.4 -3 4.2 0Z" fill="#6c90cf"/></g><line x1="218.3" y1="425.3" x2="218.3" y2="423.5" stroke="#6c90cf" stroke-width="2" stroke-linecap="round"/><circle cx="218.3" cy="436.6" r="12.80" fill="#6c90cf" opacity="0.35"/><circle cx="218.3" cy="436.6" r="11.30" fill="#fff" stroke="#6c90cf" stroke-width="2.0"/><text transform="translate(218.30 439.65) scale(0.95 1)" font-size="8.8" fill="#2b2320" font-weight="bold" text-anchor="middle" letter-spacing="-0.25" >8:46</text>
<g transform="translate(74.40 460.40)"><circle r="5.10" fill="#2866b4" opacity="0.3"/><circle r="4.20" fill="#2866b4"/><path transform="scale(0.977)" d="M0 3L3 -0.2H1.2V-2.8H-1.2V-0.2H-3Z" fill="#fff"/></g><text transform="translate(79.80 463.39) scale(0.86 1)" font-size="8.2" fill="#2866b4" font-weight="bold" text-anchor="start" letter-spacing="0" >9분</text>
<g transform="translate(118.50 453.30)"><circle r="5.10" fill="#2866b4" opacity="0.3"/><circle r="4.20" fill="#2866b4"/><path transform="scale(0.977)" d="M0 3L3 -0.2H1.2V-2.8H-1.2V-0.2H-3Z" fill="#fff"/></g><text transform="translate(123.90 456.29) scale(0.86 1)" font-size="8.2" fill="#2866b4" font-weight="bold" text-anchor="start" letter-spacing="0" >12분</text>
<g transform="translate(164.40 439.00)"><circle r="5.10" fill="#2866b4" opacity="0.3"/><circle r="4.20" fill="#2866b4"/><path transform="scale(0.977)" d="M0 3L3 -0.2H1.2V-2.8H-1.2V-0.2H-3Z" fill="#fff"/></g><text transform="translate(169.80 441.99) scale(0.86 1)" font-size="8.2" fill="#2866b4" font-weight="bold" text-anchor="start" letter-spacing="0" >17분</text>
<g transform="translate(210.60 411.00)"><circle r="5.10" fill="#2866b4" opacity="0.3"/><circle r="4.20" fill="#2866b4"/><path transform="scale(0.977)" d="M0 3L3 -0.2H1.2V-2.8H-1.2V-0.2H-3Z" fill="#fff"/></g><text transform="translate(216.00 413.99) scale(0.86 1)" font-size="8.2" fill="#2866b4" font-weight="bold" text-anchor="start" letter-spacing="0" >22분</text>
<line x1="286.6" y1="451.29999999999995" x2="286.6" y2="524.2" stroke="#d6d6d6" stroke-width="1.3" stroke-dasharray="1.4 2.03"/><line x1="332.6" y1="478.0" x2="332.6" y2="524.2" stroke="#d6d6d6" stroke-width="1.3" stroke-dasharray="1.4 2.03"/><line x1="378.6" y1="498.5" x2="378.6" y2="524.2" stroke="#d6d6d6" stroke-width="1.3" stroke-dasharray="1.4 2.03"/><line x1="424.5" y1="515.8" x2="424.5" y2="524.2" stroke="#d6d6d6" stroke-width="1.3" stroke-dasharray="1.4 2.03"/><path d="M286.6 438.9L332.6 465.6L378.6 486.1L424.5 503.4" fill="none" stroke="#7b2d8e" stroke-width="1.5"/><g transform="translate(279.66 427.25) rotate(-33)"><path d="M-4.2 0C-4.4 -3 -2.4 -4.6 0 -4.6C2.4 -4.6 4.4 -3 4.2 0Z" fill="#dc8fb0"/></g><line x1="281.03" y1="448.17" x2="279.32" y2="450.53" stroke="#dc8fb0" stroke-width="1.9" stroke-linecap="round"/><g transform="translate(294.14 427.25) rotate(33)"><path d="M-4.2 0C-4.4 -3 -2.4 -4.6 0 -4.6C2.4 -4.6 4.4 -3 4.2 0Z" fill="#dc8fb0"/></g><line x1="292.77" y1="448.17" x2="294.48" y2="450.53" stroke="#dc8fb0" stroke-width="1.9" stroke-linecap="round"/><line x1="286.90000000000003" y1="427.0" x2="286.90000000000003" y2="425.2" stroke="#dc8fb0" stroke-width="2" stroke-linecap="round"/><circle cx="286.90000000000003" cy="438.4" r="12.90" fill="#dc8fb0" opacity="0.35"/><circle cx="286.90000000000003" cy="438.4" r="11.40" fill="#fff" stroke="#dc8fb0" stroke-width="2.0"/><text transform="translate(286.90 441.45) scale(0.95 1)" font-size="8.8" fill="#2b2320" font-weight="bold" text-anchor="middle" letter-spacing="-0.25" >2:25</text><g transform="translate(325.66 453.95) rotate(-33)"><path d="M-4.2 0C-4.4 -3 -2.4 -4.6 0 -4.6C2.4 -4.6 4.4 -3 4.2 0Z" fill="#dc8fb0"/></g><line x1="327.03" y1="474.87" x2="325.32" y2="477.23" stroke="#dc8fb0" stroke-width="1.9" stroke-linecap="round"/><g transform="translate(340.14 453.95) rotate(33)"><path d="M-4.2 0C-4.4 -3 -2.4 -4.6 0 -4.6C2.4 -4.6 4.4 -3 4.2 0Z" fill="#dc8fb0"/></g><line x1="338.77" y1="474.87" x2="340.48" y2="477.23" stroke="#dc8fb0" stroke-width="1.9" stroke-linecap="round"/><line x1="332.90000000000003" y1="453.70000000000005" x2="332.90000000000003" y2="451.90000000000003" stroke="#dc8fb0" stroke-width="2" stroke-linecap="round"/><circle cx="332.90000000000003" cy="465.1" r="12.90" fill="#dc8fb0" opacity="0.35"/><circle cx="332.90000000000003" cy="465.1" r="11.40" fill="#fff" stroke="#dc8fb0" stroke-width="2.0"/><text transform="translate(332.90 468.15) scale(0.95 1)" font-size="8.8" fill="#2b2320" font-weight="bold" text-anchor="middle" letter-spacing="-0.25" >1:43</text><g transform="translate(371.66 474.45) rotate(-33)"><path d="M-4.2 0C-4.4 -3 -2.4 -4.6 0 -4.6C2.4 -4.6 4.4 -3 4.2 0Z" fill="#dc8fb0"/></g><line x1="373.03" y1="495.37" x2="371.32" y2="497.73" stroke="#dc8fb0" stroke-width="1.9" stroke-linecap="round"/><g transform="translate(386.14 474.45) rotate(33)"><path d="M-4.2 0C-4.4 -3 -2.4 -4.6 0 -4.6C2.4 -4.6 4.4 -3 4.2 0Z" fill="#dc8fb0"/></g><line x1="384.77" y1="495.37" x2="386.48" y2="497.73" stroke="#dc8fb0" stroke-width="1.9" stroke-linecap="round"/><line x1="378.90000000000003" y1="474.20000000000005" x2="378.90000000000003" y2="472.40000000000003" stroke="#dc8fb0" stroke-width="2" stroke-linecap="round"/><circle cx="378.90000000000003" cy="485.6" r="12.90" fill="#dc8fb0" opacity="0.35"/><circle cx="378.90000000000003" cy="485.6" r="11.40" fill="#fff" stroke="#dc8fb0" stroke-width="2.0"/><text transform="translate(378.90 488.65) scale(0.95 1)" font-size="8.8" fill="#2b2320" font-weight="bold" text-anchor="middle" letter-spacing="-0.25" >1:03</text><g transform="translate(417.56 491.75) rotate(-33)"><path d="M-4.2 0C-4.4 -3 -2.4 -4.6 0 -4.6C2.4 -4.6 4.4 -3 4.2 0Z" fill="#dc8fb0"/></g><line x1="418.93" y1="512.67" x2="417.22" y2="515.03" stroke="#dc8fb0" stroke-width="1.9" stroke-linecap="round"/><g transform="translate(432.04 491.75) rotate(33)"><path d="M-4.2 0C-4.4 -3 -2.4 -4.6 0 -4.6C2.4 -4.6 4.4 -3 4.2 0Z" fill="#dc8fb0"/></g><line x1="430.67" y1="512.67" x2="432.38" y2="515.03" stroke="#dc8fb0" stroke-width="1.9" stroke-linecap="round"/><line x1="424.8" y1="491.5" x2="424.8" y2="489.7" stroke="#dc8fb0" stroke-width="2" stroke-linecap="round"/><circle cx="424.8" cy="502.9" r="12.90" fill="#dc8fb0" opacity="0.35"/><circle cx="424.8" cy="502.9" r="11.40" fill="#fff" stroke="#dc8fb0" stroke-width="2.0"/><text transform="translate(424.80 505.95) scale(0.95 1)" font-size="8.8" fill="#2b2320" font-weight="bold" text-anchor="middle" letter-spacing="-0.25" >0:31</text><g transform="translate(280.80 411.50)"><circle r="5.10" fill="#dd5b27" opacity="0.3"/><circle r="4.20" fill="#dd5b27"/><path transform="scale(0.977)" d="M0 -3L3 0.2H1.2V2.8H-1.2V0.2H-3Z" fill="#fff"/></g><text transform="translate(286.20 414.49) scale(0.86 1)" font-size="8.2" fill="#dd5b27" font-weight="bold" text-anchor="start" letter-spacing="0" >8분</text><g transform="translate(324.80 438.90)"><circle r="5.10" fill="#dd5b27" opacity="0.3"/><circle r="4.20" fill="#dd5b27"/><path transform="scale(0.977)" d="M0 -3L3 0.2H1.2V2.8H-1.2V0.2H-3Z" fill="#fff"/></g><text transform="translate(330.20 441.89) scale(0.86 1)" font-size="8.2" fill="#dd5b27" font-weight="bold" text-anchor="start" letter-spacing="0" >18분</text><g transform="translate(372.60 460.90)"><circle r="5.10" fill="#2866b4" opacity="0.3"/><circle r="4.20" fill="#2866b4"/><path transform="scale(0.977)" d="M0 3L3 -0.2H1.2V-2.8H-1.2V-0.2H-3Z" fill="#fff"/></g><text transform="translate(378.00 463.89) scale(0.86 1)" font-size="8.2" fill="#2866b4" font-weight="bold" text-anchor="start" letter-spacing="0" >7분</text><g transform="translate(417.30 477.60)"><circle r="5.10" fill="#777777" opacity="0.3"/><circle r="4.20" fill="#777777"/><rect x="-2.54" y="-0.88" width="5.08" height="1.76" fill="#fff"/></g><text transform="translate(422.70 480.59) scale(0.86 1)" font-size="8.2" fill="#777777" font-weight="bold" text-anchor="start" letter-spacing="0" >0분</text>
<g transform="translate(262 472) scale(0.085714)" stroke="#e2548c" stroke-width="9.5" stroke-linejoin="round" stroke-linecap="round" fill="#fff">
<path d="M200 505V620H222V505M250 505V620H272V505" fill="#f8d3e1"/>
<path d="M165 295C160 340 172 420 185 470L300 460C290 400 262 330 225 290Z" fill="#fff"/>
<path d="M188 420H290" />
<path d="M182 462H330Q345 462 345 478V488Q345 502 330 502H195Q180 502 180 488Z" fill="#f8d3e1"/>
<path d="M178 288C140 270 105 240 112 214C130 170 170 120 205 92C225 84 240 96 232 116C215 150 185 190 180 215C200 235 225 255 240 270" fill="#fff"/>
<path d="M225 262C262 262 300 270 325 290C345 320 350 360 345 395L300 405C285 350 262 300 225 262Z" fill="#f8d3e1"/>
<path d="M300 405C330 395 420 395 470 402C495 440 505 520 510 592L462 598C450 540 430 470 410 440C390 470 395 540 400 598L375 598C360 540 340 470 300 405Z" fill="#fff"/>
<path d="M375 596H445C455 610 458 622 455 626H375Z" fill="#f8d3e1"/>
<path d="M462 598H520C540 608 552 620 550 626H462Z" fill="#f8d3e1"/>
<path d="M352 312H486L462 392H335Z" fill="#f8d3e1"/>
<path d="M322 292C335 285 355 288 362 300C358 312 345 318 335 314" fill="#f8d3e1"/>
<path d="M206 170C200 120 232 92 270 96C312 98 338 130 332 172C328 205 302 228 270 226C236 226 210 204 206 170Z" fill="#fff"/>
<path d="M204 176C186 130 216 84 268 86C318 86 348 130 334 180C340 186 346 184 348 178M230 130C250 140 290 130 310 112" fill="none"/>
<circle cx="248" cy="176" r="5" fill="#e2548c" stroke="none"/><circle cx="292" cy="172" r="5" fill="#e2548c" stroke="none"/>
<path d="M258 206C266 212 278 210 284 204" fill="none" stroke-width="6"/>
</g>
<g transform="translate(472 398) scale(0.085714)" stroke="#2c8c5e" stroke-width="9.5" stroke-linejoin="round" stroke-linecap="round" fill="#fff">
<path d="M78 495H608V582H78Z" fill="#cbd66c"/>
<path d="M62 466H622Q628 466 628 474V488Q628 496 622 496H62Q56 496 56 488V474Q56 466 62 466Z" fill="#cbd66c"/>
<!-- man -->
<path d="M372 380H552V545H470L462 420L452 545H372Z" fill="#fff"/>
<path d="M378 545H452V575H378ZM474 545H548V575H474Z" fill="#cbd66c"/>
<path d="M340 370C340 320 360 270 400 250C440 236 480 236 520 250C570 270 598 320 600 372C590 400 540 400 500 372L470 330H445L420 372C390 402 345 400 340 370Z" fill="#cbd66c"/>
<path d="M400 290C430 300 490 300 520 290" fill="none"/>
<path d="M432 335V572H448V335Z" fill="#cbd66c"/>
<circle cx="458" cy="372" r="14" fill="#cbd66c"/>
<path d="M435 305H482V335H435Z" fill="#fff"/>
<path d="M400 180C398 150 420 135 458 135C496 135 518 150 516 180C514 220 490 242 458 242C426 242 402 220 400 180Z" fill="#fff"/>
<path d="M390 180C376 190 384 214 400 214M526 180C540 190 532 214 516 214" fill="#fff"/>
<path d="M405 118C402 84 420 64 462 64C504 64 522 84 520 118Z" fill="#fff"/>
<path d="M404 104H520V126H404Z" fill="#86b25c"/>
<path d="M366 122H552Q560 122 558 132Q556 142 546 142H372Q362 142 362 132Q362 122 366 122Z" fill="#86b25c"/>
<circle cx="436" cy="182" r="5" fill="#2c8c5e" stroke="none"/><circle cx="482" cy="182" r="5" fill="#2c8c5e" stroke="none"/>
<path d="M440 212C450 220 468 220 478 212" fill="none" stroke-width="6"/>
<!-- woman -->
<path d="M128 540C120 470 150 400 226 396C300 400 330 470 324 540Z" fill="#fff"/>
<path d="M160 545H215V575H160ZM240 545H295V575H240Z" fill="#cbd66c"/>
<path d="M100 370C110 330 140 290 180 276H265C300 290 330 330 340 372C335 400 300 402 270 385L245 350H200L175 385C150 402 105 400 100 370Z" fill="#cbd66c"/>
<path d="M198 318H248V372H198Z" fill="#fff"/>
<path d="M200 270H245V296H200Z" fill="#fff"/>
<path d="M165 205C163 165 188 145 222 145C256 145 282 165 280 205C278 245 254 268 222 268C190 268 167 245 165 205Z" fill="#fff"/>
<path d="M150 190C146 150 176 118 222 118C268 118 298 150 294 190C280 176 262 160 240 156C210 160 176 172 150 190Z" fill="#fff"/>
<path d="M150 192C134 210 140 250 166 262M294 192C304 200 302 216 296 222" fill="none"/>
<path d="M190 206C196 200 206 200 212 206M234 206C240 200 250 200 256 206M206 236C216 244 232 244 242 236" fill="none" stroke-width="6"/>
</g>
<line x1="492.0" y1="507.9" x2="492.0" y2="524.2" stroke="#d6d6d6" stroke-width="1.3" stroke-dasharray="1.4 2.03"/><line x1="538.0" y1="504.09999999999997" x2="538.0" y2="524.2" stroke="#d6d6d6" stroke-width="1.3" stroke-dasharray="1.4 2.03"/><line x1="584.0" y1="496.29999999999995" x2="584.0" y2="524.2" stroke="#d6d6d6" stroke-width="1.3" stroke-dasharray="1.4 2.03"/><line x1="629.9" y1="490.0" x2="629.9" y2="524.2" stroke="#d6d6d6" stroke-width="1.3" stroke-dasharray="1.4 2.03"/><path d="M492.0 495.5L538.0 491.7L584.0 483.9L629.9 477.6" fill="none" stroke="#1b7f7b" stroke-width="1.5"/><g transform="translate(485.06 483.85) rotate(-33)"><path d="M-4.2 0C-4.4 -3 -2.4 -4.6 0 -4.6C2.4 -4.6 4.4 -3 4.2 0Z" fill="#4bb43c"/></g><line x1="486.43" y1="504.77" x2="484.72" y2="507.13" stroke="#4bb43c" stroke-width="1.9" stroke-linecap="round"/><g transform="translate(499.54 483.85) rotate(33)"><path d="M-4.2 0C-4.4 -3 -2.4 -4.6 0 -4.6C2.4 -4.6 4.4 -3 4.2 0Z" fill="#4bb43c"/></g><line x1="498.17" y1="504.77" x2="499.88" y2="507.13" stroke="#4bb43c" stroke-width="1.9" stroke-linecap="round"/><line x1="492.3" y1="483.6" x2="492.3" y2="481.8" stroke="#4bb43c" stroke-width="2" stroke-linecap="round"/><circle cx="492.3" cy="495.0" r="12.90" fill="#4bb43c" opacity="0.35"/><circle cx="492.3" cy="495.0" r="11.40" fill="#fff" stroke="#4bb43c" stroke-width="2.0"/><text transform="translate(492.30 498.05) scale(0.95 1)" font-size="8.8" fill="#2b2320" font-weight="bold" text-anchor="middle" letter-spacing="-0.25" >0:38</text><g transform="translate(531.06 480.05) rotate(-33)"><path d="M-4.2 0C-4.4 -3 -2.4 -4.6 0 -4.6C2.4 -4.6 4.4 -3 4.2 0Z" fill="#4bb43c"/></g><line x1="532.43" y1="500.97" x2="530.72" y2="503.33" stroke="#4bb43c" stroke-width="1.9" stroke-linecap="round"/><g transform="translate(545.54 480.05) rotate(33)"><path d="M-4.2 0C-4.4 -3 -2.4 -4.6 0 -4.6C2.4 -4.6 4.4 -3 4.2 0Z" fill="#4bb43c"/></g><line x1="544.17" y1="500.97" x2="545.88" y2="503.33" stroke="#4bb43c" stroke-width="1.9" stroke-linecap="round"/><line x1="538.3" y1="479.8" x2="538.3" y2="478.0" stroke="#4bb43c" stroke-width="2" stroke-linecap="round"/><circle cx="538.3" cy="491.2" r="12.90" fill="#4bb43c" opacity="0.35"/><circle cx="538.3" cy="491.2" r="11.40" fill="#fff" stroke="#4bb43c" stroke-width="2.0"/><text transform="translate(538.30 494.25) scale(0.95 1)" font-size="8.8" fill="#2b2320" font-weight="bold" text-anchor="middle" letter-spacing="-0.25" >0:42</text><g transform="translate(577.06 472.25) rotate(-33)"><path d="M-4.2 0C-4.4 -3 -2.4 -4.6 0 -4.6C2.4 -4.6 4.4 -3 4.2 0Z" fill="#4bb43c"/></g><line x1="578.43" y1="493.17" x2="576.72" y2="495.53" stroke="#4bb43c" stroke-width="1.9" stroke-linecap="round"/><g transform="translate(591.54 472.25) rotate(33)"><path d="M-4.2 0C-4.4 -3 -2.4 -4.6 0 -4.6C2.4 -4.6 4.4 -3 4.2 0Z" fill="#4bb43c"/></g><line x1="590.17" y1="493.17" x2="591.88" y2="495.53" stroke="#4bb43c" stroke-width="1.9" stroke-linecap="round"/><line x1="584.3" y1="472.0" x2="584.3" y2="470.2" stroke="#4bb43c" stroke-width="2" stroke-linecap="round"/><circle cx="584.3" cy="483.4" r="12.90" fill="#4bb43c" opacity="0.35"/><circle cx="584.3" cy="483.4" r="11.40" fill="#fff" stroke="#4bb43c" stroke-width="2.0"/><text transform="translate(584.30 486.45) scale(0.95 1)" font-size="8.8" fill="#2b2320" font-weight="bold" text-anchor="middle" letter-spacing="-0.25" >0:49</text><g transform="translate(622.96 465.95) rotate(-33)"><path d="M-4.2 0C-4.4 -3 -2.4 -4.6 0 -4.6C2.4 -4.6 4.4 -3 4.2 0Z" fill="#4bb43c"/></g><line x1="624.33" y1="486.87" x2="622.62" y2="489.23" stroke="#4bb43c" stroke-width="1.9" stroke-linecap="round"/><g transform="translate(637.44 465.95) rotate(33)"><path d="M-4.2 0C-4.4 -3 -2.4 -4.6 0 -4.6C2.4 -4.6 4.4 -3 4.2 0Z" fill="#4bb43c"/></g><line x1="636.07" y1="486.87" x2="637.78" y2="489.23" stroke="#4bb43c" stroke-width="1.9" stroke-linecap="round"/><line x1="630.1999999999999" y1="465.70000000000005" x2="630.1999999999999" y2="463.90000000000003" stroke="#4bb43c" stroke-width="2" stroke-linecap="round"/><circle cx="630.1999999999999" cy="477.1" r="12.90" fill="#4bb43c" opacity="0.35"/><circle cx="630.1999999999999" cy="477.1" r="11.40" fill="#fff" stroke="#4bb43c" stroke-width="2.0"/><text transform="translate(630.20 480.15) scale(0.95 1)" font-size="8.8" fill="#2b2320" font-weight="bold" text-anchor="middle" letter-spacing="-0.25" >0:55</text><g transform="translate(486.20 468.80)"><circle r="5.10" fill="#2866b4" opacity="0.3"/><circle r="4.20" fill="#2866b4"/><path transform="scale(0.977)" d="M0 3L3 -0.2H1.2V-2.8H-1.2V-0.2H-3Z" fill="#fff"/></g><text transform="translate(491.60 471.79) scale(0.86 1)" font-size="8.2" fill="#2866b4" font-weight="bold" text-anchor="start" letter-spacing="0" >1분</text><g transform="translate(531.80 465.00)"><circle r="5.10" fill="#2866b4" opacity="0.3"/><circle r="4.20" fill="#2866b4"/><path transform="scale(0.977)" d="M0 3L3 -0.2H1.2V-2.8H-1.2V-0.2H-3Z" fill="#fff"/></g><text transform="translate(537.20 467.99) scale(0.86 1)" font-size="8.2" fill="#2866b4" font-weight="bold" text-anchor="start" letter-spacing="0" >6분</text><g transform="translate(578.00 458.40)"><circle r="5.10" fill="#2866b4" opacity="0.3"/><circle r="4.20" fill="#2866b4"/><path transform="scale(0.977)" d="M0 3L3 -0.2H1.2V-2.8H-1.2V-0.2H-3Z" fill="#fff"/></g><text transform="translate(583.40 461.39) scale(0.86 1)" font-size="8.2" fill="#2866b4" font-weight="bold" text-anchor="start" letter-spacing="0" >1분</text><g transform="translate(623.60 452.10)"><circle r="5.10" fill="#dd5b27" opacity="0.3"/><circle r="4.20" fill="#dd5b27"/><path transform="scale(0.977)" d="M0 -3L3 0.2H1.2V2.8H-1.2V0.2H-3Z" fill="#fff"/></g><text transform="translate(629.00 455.09) scale(0.86 1)" font-size="8.2" fill="#dd5b27" font-weight="bold" text-anchor="start" letter-spacing="0" >3분</text>
<path d="M61.4 580V568.2Q61.4 562.2 67.4 562.2H233.6Q239.6 562.2 239.6 568.2V580Z" fill="#f8f1f6"/><text x="150.50" y="575.20" font-size="11.4" fill="#2b3a8f" font-weight="bold" text-anchor="middle" letter-spacing="-0.3" >식 사</text>
<path d="M266.4 580V568.2Q266.4 562.2 272.4 562.2H439Q445 562.2 445 568.2V580Z" fill="#fdf2f6"/><text x="355.70" y="575.20" font-size="11.4" fill="#d6006e" font-weight="bold" text-anchor="middle" letter-spacing="-0.3" >가사노동</text>
<path d="M471.4 580V568.2Q471.4 562.2 477.4 562.2H643.6Q649.6 562.2 649.6 568.2V580Z" fill="#f3f7f1"/><text x="560.50" y="575.20" font-size="11.4" fill="#12683c" font-weight="bold" text-anchor="middle" letter-spacing="-0.3" >미디어 이용시간</text>
<ellipse cx="80.8" cy="704.8" rx="17.25" ry="2.6" fill="#e3e3e1"/><text x="80.80" y="720.00" font-size="8.3" fill="#666" text-anchor="middle" letter-spacing="-0.1" word-spacing="-0.8"><tspan font-size="9.13">65~69</tspan>세</text><ellipse cx="127.0" cy="704.8" rx="17.25" ry="2.6" fill="#e3e3e1"/><text x="127.00" y="720.00" font-size="8.3" fill="#666" text-anchor="middle" letter-spacing="-0.1" word-spacing="-0.8"><tspan font-size="9.13">70~74</tspan>세</text><ellipse cx="173.4" cy="704.8" rx="17.25" ry="2.6" fill="#e3e3e1"/><text x="173.40" y="720.00" font-size="8.3" fill="#666" text-anchor="middle" letter-spacing="-0.1" word-spacing="-0.8"><tspan font-size="9.13">75~79</tspan>세</text><ellipse cx="219.8" cy="704.8" rx="17.25" ry="2.6" fill="#e3e3e1"/><text x="219.80" y="720.00" font-size="8.3" fill="#666" text-anchor="middle" letter-spacing="-0.1" word-spacing="-0.8"><tspan font-size="9.13">80</tspan>세 이상</text>
<ellipse cx="286.6" cy="704.8" rx="17.25" ry="2.6" fill="#e3e3e1"/><text x="286.60" y="720.00" font-size="8.3" fill="#666" text-anchor="middle" letter-spacing="-0.1" word-spacing="-0.8"><tspan font-size="9.13">65~69</tspan>세</text><ellipse cx="332.6" cy="704.8" rx="17.25" ry="2.6" fill="#e3e3e1"/><text x="332.60" y="720.00" font-size="8.3" fill="#666" text-anchor="middle" letter-spacing="-0.1" word-spacing="-0.8"><tspan font-size="9.13">70~74</tspan>세</text><ellipse cx="378.6" cy="704.8" rx="17.25" ry="2.6" fill="#e3e3e1"/><text x="378.60" y="720.00" font-size="8.3" fill="#666" text-anchor="middle" letter-spacing="-0.1" word-spacing="-0.8"><tspan font-size="9.13">75~79</tspan>세</text><ellipse cx="424.5" cy="704.8" rx="17.25" ry="2.6" fill="#e3e3e1"/><text x="424.50" y="720.00" font-size="8.3" fill="#666" text-anchor="middle" letter-spacing="-0.1" word-spacing="-0.8"><tspan font-size="9.13">80</tspan>세 이상</text>
<ellipse cx="492.0" cy="704.8" rx="17.25" ry="2.6" fill="#e3e3e1"/><text x="492.00" y="720.00" font-size="8.3" fill="#666" text-anchor="middle" letter-spacing="-0.1" word-spacing="-0.8"><tspan font-size="9.13">65~69</tspan>세</text><ellipse cx="538.0" cy="704.8" rx="17.25" ry="2.6" fill="#e3e3e1"/><text x="538.00" y="720.00" font-size="8.3" fill="#666" text-anchor="middle" letter-spacing="-0.1" word-spacing="-0.8"><tspan font-size="9.13">70~74</tspan>세</text><ellipse cx="584.0" cy="704.8" rx="17.25" ry="2.6" fill="#e3e3e1"/><text x="584.00" y="720.00" font-size="8.3" fill="#666" text-anchor="middle" letter-spacing="-0.1" word-spacing="-0.8"><tspan font-size="9.13">75~79</tspan>세</text><ellipse cx="629.9" cy="704.8" rx="17.25" ry="2.6" fill="#e3e3e1"/><text x="629.90" y="720.00" font-size="8.3" fill="#666" text-anchor="middle" letter-spacing="-0.1" word-spacing="-0.8"><tspan font-size="9.13">80</tspan>세 이상</text>
<path d="M65.95 703.6V652.65A4.05 4.05 0 0 1 74.05 652.65V703.6Z" fill="#aab7e0"/>
<text transform="translate(66.70 652.20) rotate(90) scale(0.84 1)" font-size="9.4" fill="#fff" fill-opacity="0.5" stroke="#fff" stroke-width="0.5">0:27</text>
<text transform="translate(68.05 688.60) rotate(90) scale(1.12 0.76)" font-size="7.0" fill="#fff" fill-opacity="0.92">아침</text>
<g transform="translate(69.70 632.00)"><circle r="4.80" fill="#2866b4" opacity="0.3"/><circle r="3.90" fill="#2866b4"/><path transform="scale(0.907)" d="M0 3L3 -0.2H1.2V-2.8H-1.2V-0.2H-3Z" fill="#fff"/></g>
<text transform="translate(69.70 644.60) scale(0.82 1)" font-size="7.9" fill="#2866b4" font-weight="bold" text-anchor="middle" letter-spacing="0" >1분</text>
<path d="M76.35 703.6V625.15A4.05 4.05 0 0 1 84.45 625.15V703.6Z" fill="#8fa5d9"/>
<text transform="translate(77.10 624.70) rotate(90) scale(0.84 1)" font-size="9.4" fill="#fff" fill-opacity="0.5" stroke="#fff" stroke-width="0.5">0:33</text>
<text transform="translate(78.45 688.60) rotate(90) scale(1.12 0.76)" font-size="7.0" fill="#fff" fill-opacity="0.92">점심</text>
<g transform="translate(80.10 604.50)"><circle r="4.80" fill="#2866b4" opacity="0.3"/><circle r="3.90" fill="#2866b4"/><path transform="scale(0.907)" d="M0 3L3 -0.2H1.2V-2.8H-1.2V-0.2H-3Z" fill="#fff"/></g>
<text transform="translate(80.10 617.10) scale(0.82 1)" font-size="7.9" fill="#2866b4" font-weight="bold" text-anchor="middle" letter-spacing="0" >1분</text>
<path d="M86.85 703.6V629.75A4.05 4.05 0 0 1 94.95 629.75V703.6Z" fill="#6c90cf"/>
<text transform="translate(87.60 629.30) rotate(90) scale(0.84 1)" font-size="9.4" fill="#fff" fill-opacity="0.5" stroke="#fff" stroke-width="0.5">0:32</text>
<text transform="translate(88.95 688.60) rotate(90) scale(1.12 0.76)" font-size="7.0" fill="#fff" fill-opacity="0.92">저녁</text>
<g transform="translate(90.60 609.10)"><circle r="4.80" fill="#2866b4" opacity="0.3"/><circle r="3.90" fill="#2866b4"/><path transform="scale(0.907)" d="M0 3L3 -0.2H1.2V-2.8H-1.2V-0.2H-3Z" fill="#fff"/></g>
<text transform="translate(90.60 621.70) scale(0.82 1)" font-size="7.9" fill="#2866b4" font-weight="bold" text-anchor="middle" letter-spacing="0" >2분</text>
<path d="M112.15 703.6V649.05A4.05 4.05 0 0 1 120.25 649.05V703.6Z" fill="#aab7e0"/>
<text transform="translate(112.90 648.60) rotate(90) scale(0.84 1)" font-size="9.4" fill="#fff" fill-opacity="0.5" stroke="#fff" stroke-width="0.5">0:28</text>
<text transform="translate(114.25 688.60) rotate(90) scale(1.12 0.76)" font-size="7.0" fill="#fff" fill-opacity="0.92">아침</text>
<g transform="translate(115.90 628.40)"><circle r="4.80" fill="#2866b4" opacity="0.3"/><circle r="3.90" fill="#2866b4"/><path transform="scale(0.907)" d="M0 3L3 -0.2H1.2V-2.8H-1.2V-0.2H-3Z" fill="#fff"/></g>
<text transform="translate(115.90 641.00) scale(0.82 1)" font-size="7.9" fill="#2866b4" font-weight="bold" text-anchor="middle" letter-spacing="0" >1분</text>
<path d="M122.75 703.6V629.75A4.05 4.05 0 0 1 130.85 629.75V703.6Z" fill="#8fa5d9"/>
<text transform="translate(123.50 629.30) rotate(90) scale(0.84 1)" font-size="9.4" fill="#fff" fill-opacity="0.5" stroke="#fff" stroke-width="0.5">0:32</text>
<text transform="translate(124.85 688.60) rotate(90) scale(1.12 0.76)" font-size="7.0" fill="#fff" fill-opacity="0.92">점심</text>
<g transform="translate(126.50 609.10)"><circle r="4.80" fill="#2866b4" opacity="0.3"/><circle r="3.90" fill="#2866b4"/><path transform="scale(0.907)" d="M0 3L3 -0.2H1.2V-2.8H-1.2V-0.2H-3Z" fill="#fff"/></g>
<text transform="translate(126.50 621.70) scale(0.82 1)" font-size="7.9" fill="#2866b4" font-weight="bold" text-anchor="middle" letter-spacing="0" >1분</text>
<path d="M133.45 703.6V629.75A4.05 4.05 0 0 1 141.55 629.75V703.6Z" fill="#6c90cf"/>
<text transform="translate(134.20 629.30) rotate(90) scale(0.84 1)" font-size="9.4" fill="#fff" fill-opacity="0.5" stroke="#fff" stroke-width="0.5">0:32</text>
<text transform="translate(135.55 688.60) rotate(90) scale(1.12 0.76)" font-size="7.0" fill="#fff" fill-opacity="0.92">저녁</text>
<g transform="translate(137.20 609.10)"><circle r="4.80" fill="#2866b4" opacity="0.3"/><circle r="3.90" fill="#2866b4"/><path transform="scale(0.907)" d="M0 3L3 -0.2H1.2V-2.8H-1.2V-0.2H-3Z" fill="#fff"/></g>
<text transform="translate(137.20 621.70) scale(0.82 1)" font-size="7.9" fill="#2866b4" font-weight="bold" text-anchor="middle" letter-spacing="0" >1분</text>
<path d="M158.85 703.6V649.05A4.05 4.05 0 0 1 166.95 649.05V703.6Z" fill="#aab7e0"/>
<text transform="translate(159.60 648.60) rotate(90) scale(0.84 1)" font-size="9.4" fill="#fff" fill-opacity="0.5" stroke="#fff" stroke-width="0.5">0:28</text>
<text transform="translate(160.95 688.60) rotate(90) scale(1.12 0.76)" font-size="7.0" fill="#fff" fill-opacity="0.92">아침</text>
<g transform="translate(162.60 628.40)"><circle r="4.80" fill="#2866b4" opacity="0.3"/><circle r="3.90" fill="#2866b4"/><path transform="scale(0.907)" d="M0 3L3 -0.2H1.2V-2.8H-1.2V-0.2H-3Z" fill="#fff"/></g>
<text transform="translate(162.60 641.00) scale(0.82 1)" font-size="7.9" fill="#2866b4" font-weight="bold" text-anchor="middle" letter-spacing="0" >1분</text>
<path d="M169.35 703.6V629.75A4.05 4.05 0 0 1 177.45 629.75V703.6Z" fill="#8fa5d9"/>
<text transform="translate(170.10 629.30) rotate(90) scale(0.84 1)" font-size="9.4" fill="#fff" fill-opacity="0.5" stroke="#fff" stroke-width="0.5">0:32</text>
<text transform="translate(171.45 688.60) rotate(90) scale(1.12 0.76)" font-size="7.0" fill="#fff" fill-opacity="0.92">점심</text>
<g transform="translate(173.10 609.10)"><circle r="4.80" fill="#777777" opacity="0.3"/><circle r="3.90" fill="#777777"/><rect x="-2.36" y="-0.82" width="4.72" height="1.63" fill="#fff"/></g>
<text transform="translate(173.10 621.70) scale(0.82 1)" font-size="7.9" fill="#777777" font-weight="bold" text-anchor="middle" letter-spacing="0" >0분</text>
<path d="M179.85 703.6V636.65A4.05 4.05 0 0 1 187.95 636.65V703.6Z" fill="#6c90cf"/>
<text transform="translate(180.60 636.20) rotate(90) scale(0.84 1)" font-size="9.4" fill="#fff" fill-opacity="0.5" stroke="#fff" stroke-width="0.5">0:31</text>
<text transform="translate(181.95 688.60) rotate(90) scale(1.12 0.76)" font-size="7.0" fill="#fff" fill-opacity="0.92">저녁</text>
<g transform="translate(183.60 616.00)"><circle r="4.80" fill="#2866b4" opacity="0.3"/><circle r="3.90" fill="#2866b4"/><path transform="scale(0.907)" d="M0 3L3 -0.2H1.2V-2.8H-1.2V-0.2H-3Z" fill="#fff"/></g>
<text transform="translate(183.60 628.60) scale(0.82 1)" font-size="7.9" fill="#2866b4" font-weight="bold" text-anchor="middle" letter-spacing="0" >1분</text>
<path d="M205.05 703.6V649.05A4.05 4.05 0 0 1 213.15 649.05V703.6Z" fill="#b0b9dc"/>
<text transform="translate(205.80 648.60) rotate(90) scale(0.84 1)" font-size="9.4" fill="#fff" fill-opacity="0.5" stroke="#fff" stroke-width="0.5">0:28</text>
<text transform="translate(207.15 688.60) rotate(90) scale(1.12 0.76)" font-size="7.0" fill="#fff" fill-opacity="0.92">아침</text>
<g transform="translate(208.80 628.40)"><circle r="4.80" fill="#2866b4" opacity="0.3"/><circle r="3.90" fill="#2866b4"/><path transform="scale(0.907)" d="M0 3L3 -0.2H1.2V-2.8H-1.2V-0.2H-3Z" fill="#fff"/></g>
<text transform="translate(208.80 641.00) scale(0.82 1)" font-size="7.9" fill="#2866b4" font-weight="bold" text-anchor="middle" letter-spacing="0" >1분</text>
<path d="M215.75 703.6V636.65A4.05 4.05 0 0 1 223.85 636.65V703.6Z" fill="#8fa5d9"/>
<text transform="translate(216.50 636.20) rotate(90) scale(0.84 1)" font-size="9.4" fill="#fff" fill-opacity="0.5" stroke="#fff" stroke-width="0.5">0:31</text>
<text transform="translate(217.85 688.60) rotate(90) scale(1.12 0.76)" font-size="7.0" fill="#fff" fill-opacity="0.92">점심</text>
<g transform="translate(219.50 616.00)"><circle r="4.80" fill="#2866b4" opacity="0.3"/><circle r="3.90" fill="#2866b4"/><path transform="scale(0.907)" d="M0 3L3 -0.2H1.2V-2.8H-1.2V-0.2H-3Z" fill="#fff"/></g>
<text transform="translate(219.50 628.60) scale(0.82 1)" font-size="7.9" fill="#2866b4" font-weight="bold" text-anchor="middle" letter-spacing="0" >2분</text>
<path d="M226.45 703.6V643.35A4.05 4.05 0 0 1 234.55 643.35V703.6Z" fill="#4f65b0"/>
<text transform="translate(227.20 642.90) rotate(90) scale(0.84 1)" font-size="9.4" fill="#fff" fill-opacity="0.5" stroke="#fff" stroke-width="0.5">0:30</text>
<text transform="translate(228.55 688.60) rotate(90) scale(1.12 0.76)" font-size="7.0" fill="#fff" fill-opacity="0.92">저녁</text>
<g transform="translate(230.20 622.70)"><circle r="4.80" fill="#2866b4" opacity="0.3"/><circle r="3.90" fill="#2866b4"/><path transform="scale(0.907)" d="M0 3L3 -0.2H1.2V-2.8H-1.2V-0.2H-3Z" fill="#fff"/></g>
<text transform="translate(230.20 635.30) scale(0.82 1)" font-size="7.9" fill="#2866b4" font-weight="bold" text-anchor="middle" letter-spacing="0" >1분</text>
<line x1="286.6" y1="667.1" x2="286.6" y2="702.8" stroke="#d6d6d6" stroke-width="1.3" stroke-dasharray="1.4 2.03"/><line x1="332.6" y1="676.6" x2="332.6" y2="702.8" stroke="#d6d6d6" stroke-width="1.3" stroke-dasharray="1.4 2.03"/><line x1="378.6" y1="670.9" x2="378.6" y2="702.8" stroke="#d6d6d6" stroke-width="1.3" stroke-dasharray="1.4 2.03"/><line x1="424.5" y1="688.1999999999999" x2="424.5" y2="702.8" stroke="#d6d6d6" stroke-width="1.3" stroke-dasharray="1.4 2.03"/><path d="M286.6 654.7L332.6 664.2L378.6 658.5L424.5 675.8" fill="none" stroke="#7b2d8e" stroke-width="1.5"/><g transform="translate(279.66 643.05) rotate(-33)"><path d="M-4.2 0C-4.4 -3 -2.4 -4.6 0 -4.6C2.4 -4.6 4.4 -3 4.2 0Z" fill="#dc8fb0"/></g><line x1="281.03" y1="663.97" x2="279.32" y2="666.33" stroke="#dc8fb0" stroke-width="1.9" stroke-linecap="round"/><g transform="translate(294.14 643.05) rotate(33)"><path d="M-4.2 0C-4.4 -3 -2.4 -4.6 0 -4.6C2.4 -4.6 4.4 -3 4.2 0Z" fill="#dc8fb0"/></g><line x1="292.77" y1="663.97" x2="294.48" y2="666.33" stroke="#dc8fb0" stroke-width="1.9" stroke-linecap="round"/><line x1="286.90000000000003" y1="642.8000000000001" x2="286.90000000000003" y2="641.0000000000001" stroke="#dc8fb0" stroke-width="2" stroke-linecap="round"/><circle cx="286.90000000000003" cy="654.2" r="12.90" fill="#dc8fb0" opacity="0.35"/><circle cx="286.90000000000003" cy="654.2" r="11.40" fill="#fff" stroke="#dc8fb0" stroke-width="2.0"/><text transform="translate(286.90 657.25) scale(0.95 1)" font-size="8.8" fill="#2b2320" font-weight="bold" text-anchor="middle" letter-spacing="-0.25" >2:20</text><g transform="translate(325.66 652.55) rotate(-33)"><path d="M-4.2 0C-4.4 -3 -2.4 -4.6 0 -4.6C2.4 -4.6 4.4 -3 4.2 0Z" fill="#dc8fb0"/></g><line x1="327.03" y1="673.47" x2="325.32" y2="675.83" stroke="#dc8fb0" stroke-width="1.9" stroke-linecap="round"/><g transform="translate(340.14 652.55) rotate(33)"><path d="M-4.2 0C-4.4 -3 -2.4 -4.6 0 -4.6C2.4 -4.6 4.4 -3 4.2 0Z" fill="#dc8fb0"/></g><line x1="338.77" y1="673.47" x2="340.48" y2="675.83" stroke="#dc8fb0" stroke-width="1.9" stroke-linecap="round"/><line x1="332.90000000000003" y1="652.3000000000001" x2="332.90000000000003" y2="650.5000000000001" stroke="#dc8fb0" stroke-width="2" stroke-linecap="round"/><circle cx="332.90000000000003" cy="663.7" r="12.90" fill="#dc8fb0" opacity="0.35"/><circle cx="332.90000000000003" cy="663.7" r="11.40" fill="#fff" stroke="#dc8fb0" stroke-width="2.0"/><text transform="translate(332.90 666.75) scale(0.95 1)" font-size="8.8" fill="#2b2320" font-weight="bold" text-anchor="middle" letter-spacing="-0.25" >2:16</text><g transform="translate(371.66 646.85) rotate(-33)"><path d="M-4.2 0C-4.4 -3 -2.4 -4.6 0 -4.6C2.4 -4.6 4.4 -3 4.2 0Z" fill="#dc8fb0"/></g><line x1="373.03" y1="667.77" x2="371.32" y2="670.13" stroke="#dc8fb0" stroke-width="1.9" stroke-linecap="round"/><g transform="translate(386.14 646.85) rotate(33)"><path d="M-4.2 0C-4.4 -3 -2.4 -4.6 0 -4.6C2.4 -4.6 4.4 -3 4.2 0Z" fill="#dc8fb0"/></g><line x1="384.77" y1="667.77" x2="386.48" y2="670.13" stroke="#dc8fb0" stroke-width="1.9" stroke-linecap="round"/><line x1="378.90000000000003" y1="646.6" x2="378.90000000000003" y2="644.8000000000001" stroke="#dc8fb0" stroke-width="2" stroke-linecap="round"/><circle cx="378.90000000000003" cy="658.0" r="12.90" fill="#dc8fb0" opacity="0.35"/><circle cx="378.90000000000003" cy="658.0" r="11.40" fill="#fff" stroke="#dc8fb0" stroke-width="2.0"/><text transform="translate(378.90 661.05) scale(0.95 1)" font-size="8.8" fill="#2b2320" font-weight="bold" text-anchor="middle" letter-spacing="-0.25" >2:18</text><g transform="translate(417.56 664.15) rotate(-33)"><path d="M-4.2 0C-4.4 -3 -2.4 -4.6 0 -4.6C2.4 -4.6 4.4 -3 4.2 0Z" fill="#dc8fb0"/></g><line x1="418.93" y1="685.07" x2="417.22" y2="687.43" stroke="#dc8fb0" stroke-width="1.9" stroke-linecap="round"/><g transform="translate(432.04 664.15) rotate(33)"><path d="M-4.2 0C-4.4 -3 -2.4 -4.6 0 -4.6C2.4 -4.6 4.4 -3 4.2 0Z" fill="#dc8fb0"/></g><line x1="430.67" y1="685.07" x2="432.38" y2="687.43" stroke="#dc8fb0" stroke-width="1.9" stroke-linecap="round"/><line x1="424.8" y1="663.9" x2="424.8" y2="662.1" stroke="#dc8fb0" stroke-width="2" stroke-linecap="round"/><circle cx="424.8" cy="675.3" r="12.90" fill="#dc8fb0" opacity="0.35"/><circle cx="424.8" cy="675.3" r="11.40" fill="#fff" stroke="#dc8fb0" stroke-width="2.0"/><text transform="translate(424.80 678.35) scale(0.95 1)" font-size="8.8" fill="#2b2320" font-weight="bold" text-anchor="middle" letter-spacing="-0.25" >1:52</text><g transform="translate(279.20 627.70)"><circle r="5.10" fill="#2866b4" opacity="0.3"/><circle r="4.20" fill="#2866b4"/><path transform="scale(0.977)" d="M0 3L3 -0.2H1.2V-2.8H-1.2V-0.2H-3Z" fill="#fff"/></g><text transform="translate(284.60 630.69) scale(0.86 1)" font-size="8.2" fill="#2866b4" font-weight="bold" text-anchor="start" letter-spacing="0" >10분</text><g transform="translate(325.50 637.40)"><circle r="5.10" fill="#2866b4" opacity="0.3"/><circle r="4.20" fill="#2866b4"/><path transform="scale(0.977)" d="M0 3L3 -0.2H1.2V-2.8H-1.2V-0.2H-3Z" fill="#fff"/></g><text transform="translate(330.90 640.39) scale(0.86 1)" font-size="8.2" fill="#2866b4" font-weight="bold" text-anchor="start" letter-spacing="0" >9분</text><g transform="translate(372.00 631.10)"><circle r="5.10" fill="#dd5b27" opacity="0.3"/><circle r="4.20" fill="#dd5b27"/><path transform="scale(0.977)" d="M0 -3L3 0.2H1.2V2.8H-1.2V0.2H-3Z" fill="#fff"/></g><text transform="translate(377.40 634.09) scale(0.86 1)" font-size="8.2" fill="#dd5b27" font-weight="bold" text-anchor="start" letter-spacing="0" >3분</text><g transform="translate(418.20 649.10)"><circle r="5.10" fill="#dd5b27" opacity="0.3"/><circle r="4.20" fill="#dd5b27"/><path transform="scale(0.977)" d="M0 -3L3 0.2H1.2V2.8H-1.2V0.2H-3Z" fill="#fff"/></g><text transform="translate(423.60 652.09) scale(0.86 1)" font-size="8.2" fill="#dd5b27" font-weight="bold" text-anchor="start" letter-spacing="0" >2분</text>
<line x1="492.0" y1="676.1999999999999" x2="492.0" y2="702.8" stroke="#d6d6d6" stroke-width="1.3" stroke-dasharray="1.4 2.03"/><line x1="538.0" y1="664.6" x2="538.0" y2="702.8" stroke="#d6d6d6" stroke-width="1.3" stroke-dasharray="1.4 2.03"/><line x1="584.0" y1="650.5" x2="584.0" y2="702.8" stroke="#d6d6d6" stroke-width="1.3" stroke-dasharray="1.4 2.03"/><line x1="629.9" y1="637.1999999999999" x2="629.9" y2="702.8" stroke="#d6d6d6" stroke-width="1.3" stroke-dasharray="1.4 2.03"/><path d="M492.0 663.8L538.0 652.2L584.0 638.1L629.9 624.8" fill="none" stroke="#1b7f7b" stroke-width="1.5"/><g transform="translate(485.06 652.15) rotate(-33)"><path d="M-4.2 0C-4.4 -3 -2.4 -4.6 0 -4.6C2.4 -4.6 4.4 -3 4.2 0Z" fill="#4bb43c"/></g><line x1="486.43" y1="673.07" x2="484.72" y2="675.43" stroke="#4bb43c" stroke-width="1.9" stroke-linecap="round"/><g transform="translate(499.54 652.15) rotate(33)"><path d="M-4.2 0C-4.4 -3 -2.4 -4.6 0 -4.6C2.4 -4.6 4.4 -3 4.2 0Z" fill="#4bb43c"/></g><line x1="498.17" y1="673.07" x2="499.88" y2="675.43" stroke="#4bb43c" stroke-width="1.9" stroke-linecap="round"/><line x1="492.3" y1="651.9" x2="492.3" y2="650.1" stroke="#4bb43c" stroke-width="2" stroke-linecap="round"/><circle cx="492.3" cy="663.3" r="12.90" fill="#4bb43c" opacity="0.35"/><circle cx="492.3" cy="663.3" r="11.40" fill="#fff" stroke="#4bb43c" stroke-width="2.0"/><text transform="translate(492.30 666.35) scale(0.95 1)" font-size="8.8" fill="#2b2320" font-weight="bold" text-anchor="middle" letter-spacing="-0.25" >3:31</text><g transform="translate(531.06 640.55) rotate(-33)"><path d="M-4.2 0C-4.4 -3 -2.4 -4.6 0 -4.6C2.4 -4.6 4.4 -3 4.2 0Z" fill="#4bb43c"/></g><line x1="532.43" y1="661.47" x2="530.72" y2="663.83" stroke="#4bb43c" stroke-width="1.9" stroke-linecap="round"/><g transform="translate(545.54 640.55) rotate(33)"><path d="M-4.2 0C-4.4 -3 -2.4 -4.6 0 -4.6C2.4 -4.6 4.4 -3 4.2 0Z" fill="#4bb43c"/></g><line x1="544.17" y1="661.47" x2="545.88" y2="663.83" stroke="#4bb43c" stroke-width="1.9" stroke-linecap="round"/><line x1="538.3" y1="640.3000000000001" x2="538.3" y2="638.5000000000001" stroke="#4bb43c" stroke-width="2" stroke-linecap="round"/><circle cx="538.3" cy="651.7" r="12.90" fill="#4bb43c" opacity="0.35"/><circle cx="538.3" cy="651.7" r="11.40" fill="#fff" stroke="#4bb43c" stroke-width="2.0"/><text transform="translate(538.30 654.75) scale(0.95 1)" font-size="8.8" fill="#2b2320" font-weight="bold" text-anchor="middle" letter-spacing="-0.25" >3:54</text><g transform="translate(577.06 626.45) rotate(-33)"><path d="M-4.2 0C-4.4 -3 -2.4 -4.6 0 -4.6C2.4 -4.6 4.4 -3 4.2 0Z" fill="#4bb43c"/></g><line x1="578.43" y1="647.37" x2="576.72" y2="649.73" stroke="#4bb43c" stroke-width="1.9" stroke-linecap="round"/><g transform="translate(591.54 626.45) rotate(33)"><path d="M-4.2 0C-4.4 -3 -2.4 -4.6 0 -4.6C2.4 -4.6 4.4 -3 4.2 0Z" fill="#4bb43c"/></g><line x1="590.17" y1="647.37" x2="591.88" y2="649.73" stroke="#4bb43c" stroke-width="1.9" stroke-linecap="round"/><line x1="584.3" y1="626.2" x2="584.3" y2="624.4000000000001" stroke="#4bb43c" stroke-width="2" stroke-linecap="round"/><circle cx="584.3" cy="637.6" r="12.90" fill="#4bb43c" opacity="0.35"/><circle cx="584.3" cy="637.6" r="11.40" fill="#fff" stroke="#4bb43c" stroke-width="2.0"/><text transform="translate(584.30 640.65) scale(0.95 1)" font-size="8.8" fill="#2b2320" font-weight="bold" text-anchor="middle" letter-spacing="-0.25" >4:20</text><g transform="translate(622.96 613.15) rotate(-33)"><path d="M-4.2 0C-4.4 -3 -2.4 -4.6 0 -4.6C2.4 -4.6 4.4 -3 4.2 0Z" fill="#4bb43c"/></g><line x1="624.33" y1="634.07" x2="622.62" y2="636.43" stroke="#4bb43c" stroke-width="1.9" stroke-linecap="round"/><g transform="translate(637.44 613.15) rotate(33)"><path d="M-4.2 0C-4.4 -3 -2.4 -4.6 0 -4.6C2.4 -4.6 4.4 -3 4.2 0Z" fill="#4bb43c"/></g><line x1="636.07" y1="634.07" x2="637.78" y2="636.43" stroke="#4bb43c" stroke-width="1.9" stroke-linecap="round"/><line x1="630.1999999999999" y1="612.9" x2="630.1999999999999" y2="611.1" stroke="#4bb43c" stroke-width="2" stroke-linecap="round"/><circle cx="630.1999999999999" cy="624.3" r="12.90" fill="#4bb43c" opacity="0.35"/><circle cx="630.1999999999999" cy="624.3" r="11.40" fill="#fff" stroke="#4bb43c" stroke-width="2.0"/><text transform="translate(630.20 627.35) scale(0.95 1)" font-size="8.8" fill="#2b2320" font-weight="bold" text-anchor="middle" letter-spacing="-0.25" >4:56</text><g transform="translate(484.60 637.10)"><circle r="5.10" fill="#dd5b27" opacity="0.3"/><circle r="4.20" fill="#dd5b27"/><path transform="scale(0.977)" d="M0 -3L3 0.2H1.2V2.8H-1.2V0.2H-3Z" fill="#fff"/></g><text transform="translate(490.00 640.09) scale(0.86 1)" font-size="8.2" fill="#dd5b27" font-weight="bold" text-anchor="start" letter-spacing="0" >17분</text><g transform="translate(530.80 626.10)"><circle r="5.10" fill="#dd5b27" opacity="0.3"/><circle r="4.20" fill="#dd5b27"/><path transform="scale(0.977)" d="M0 -3L3 0.2H1.2V2.8H-1.2V0.2H-3Z" fill="#fff"/></g><text transform="translate(536.20 629.09) scale(0.86 1)" font-size="8.2" fill="#dd5b27" font-weight="bold" text-anchor="start" letter-spacing="0" >10분</text><g transform="translate(576.70 611.30)"><circle r="5.10" fill="#dd5b27" opacity="0.3"/><circle r="4.20" fill="#dd5b27"/><path transform="scale(0.977)" d="M0 -3L3 0.2H1.2V2.8H-1.2V0.2H-3Z" fill="#fff"/></g><text transform="translate(582.10 614.29) scale(0.86 1)" font-size="8.2" fill="#dd5b27" font-weight="bold" text-anchor="start" letter-spacing="0" >18분</text><g transform="translate(622.30 598.10)"><circle r="5.10" fill="#dd5b27" opacity="0.3"/><circle r="4.20" fill="#dd5b27"/><path transform="scale(0.977)" d="M0 -3L3 0.2H1.2V2.8H-1.2V0.2H-3Z" fill="#fff"/></g><text transform="translate(627.70 601.09) scale(0.86 1)" font-size="8.2" fill="#dd5b27" font-weight="bold" text-anchor="start" letter-spacing="0" >17분</text>
<g transform="translate(580 655) scale(0.085714)" stroke="#2c8c5e" stroke-width="9" stroke-linejoin="round" stroke-linecap="round" fill="#fff">
<path d="M112 540C120 450 170 360 250 345H395C470 360 525 450 535 540Q535 578 500 578H150Q112 578 112 540Z" fill="#fff" stroke="#fff" stroke-width="22"/>
<path d="M112 540C120 450 170 360 250 345H395C470 360 525 450 535 540Q535 578 500 578H150Q112 578 112 540Z" fill="#cbd66c"/>
<path d="M270 340C280 380 360 380 375 340Z" fill="#fff"/>
<path d="M180 300C190 290 215 290 225 305C230 320 215 332 200 326" fill="#7fb06a"/>
<path d="M215 232C200 222 186 236 190 254C194 270 210 274 220 268M432 232C448 222 462 236 458 254C454 270 438 274 428 268" fill="#fff"/>
<path d="M215 230C210 160 255 108 322 106C390 106 436 160 432 230C428 292 384 336 322 336C262 336 218 292 215 230Z" fill="#fff"/>
<path d="M216 214C216 150 260 104 322 104C386 104 432 150 432 214C400 200 350 170 322 130C300 170 250 200 216 214Z" fill="#fff"/>
<path d="M250 170C270 160 290 145 300 130M345 135C360 155 385 170 400 176" fill="none" stroke-width="7"/>
<circle cx="284" cy="234" r="7" fill="#2c8c5e" stroke="none"/><circle cx="362" cy="234" r="7" fill="#2c8c5e" stroke="none"/>
<circle cx="262" cy="250" r="12" fill="#e4ea9c" stroke="none"/><circle cx="386" cy="250" r="12" fill="#e4ea9c" stroke="none"/>
<path d="M298 268C306 296 340 296 348 268Z" fill="#4fa57a" stroke-width="6"/>
<path d="M205 410Q205 395 220 395H425Q440 395 440 410V572H205Z" fill="#fff"/>
<circle cx="322" cy="478" r="22" fill="#b9cd5e" stroke="none"/>
</g>
<path d="M61 818.6V807Q61 801 67 801H333.4Q339.4 801 339.4 807V818.6Z" fill="#f6f1ea"/><text x="200.00" y="813.80" font-size="11.2" fill="#a8732f" font-weight="bold" text-anchor="middle" letter-spacing="-0.5" >여가시간 만족도</text><text x="336.40" y="813.20" font-size="8.2" fill="#333" font-weight="normal" text-anchor="end" letter-spacing="-0.4" >(단위: %)</text>
<path d="M374 818.6V807Q374 801 380 801H646.4Q652.4 801 652.4 807V818.6Z" fill="#f6f1ea"/><text x="512.40" y="813.80" font-size="11.2" fill="#a8732f" font-weight="bold" text-anchor="middle" letter-spacing="-0.5" >가사분담 만족도</text><text x="649.40" y="813.20" font-size="8.2" fill="#333" font-weight="normal" text-anchor="end" letter-spacing="-0.4" >(단위: %)</text>
<circle cx="154.4" cy="831.2" r="3.3" fill="#b07f3f"/><text x="159.60" y="834.30" font-size="8.4" fill="#555" font-weight="normal" text-anchor="start" letter-spacing="-0.5" >만족</text><circle cx="190.6" cy="831.2" r="3.3" fill="#efe3d2"/><text x="195.80" y="834.30" font-size="8.4" fill="#555" font-weight="normal" text-anchor="start" letter-spacing="-0.5" >보통</text><circle cx="227" cy="831.2" r="3.3" fill="#8e959b"/><text x="232.20" y="834.30" font-size="8.4" fill="#555" font-weight="normal" text-anchor="start" letter-spacing="-0.5" >불만족</text>
<circle cx="466" cy="831.2" r="3.3" fill="#b07f3f"/><text x="471.20" y="834.30" font-size="8.4" fill="#555" font-weight="normal" text-anchor="start" letter-spacing="-0.5" >만족</text><circle cx="501.6" cy="831.2" r="3.3" fill="#efe3d2"/><text x="506.80" y="834.30" font-size="8.4" fill="#555" font-weight="normal" text-anchor="start" letter-spacing="-0.5" >보통</text><circle cx="537.6" cy="831.2" r="3.3" fill="#8e959b"/><text x="542.80" y="834.30" font-size="8.4" fill="#555" font-weight="normal" text-anchor="start" letter-spacing="-0.5" >불만족</text>
<line x1="357.0" y1="822.2" x2="357.0" y2="936" stroke="#c4c4c4" stroke-width="1.8" stroke-dasharray="1.4 2.03"/>
<path d="M105.00 851.40A40.2 40.2 0 0 1 135.29 865.17L120.98 877.66A21.2 21.2 0 0 0 105.00 870.40Z" fill="#8b8f92"/><path d="M135.15 865.02A40.2 40.2 0 0 1 81.61 924.29L92.67 908.84A21.2 21.2 0 0 0 120.90 877.58Z" fill="#e3ccae"/><path d="M81.78 924.42A40.2 40.2 0 0 1 105.00 851.40L105.00 870.40A21.2 21.2 0 0 0 92.76 908.91Z" fill="#633a1b"/><circle cx="105" cy="891.6" r="21.2" fill="#fff"/><text transform="translate(104.60 885.50) scale(0.85 1)" font-size="8.0" fill="#5a5a5a" font-weight="500" text-anchor="middle" letter-spacing="0" ><tspan font-size="9.12">65</tspan>세 이상</text><text transform="translate(75.40 887.50) scale(0.85 1)" font-size="9.5" fill="#fff" font-weight="bold" text-anchor="middle" letter-spacing="0" >40.2</text><text transform="translate(131.30 910.70) scale(0.85 1)" font-size="9.5" fill="#5b3418" font-weight="bold" text-anchor="middle" letter-spacing="0" >46.3</text><text transform="translate(117.60 867.40) scale(0.85 1)" font-size="9.5" fill="#fff" font-weight="bold" text-anchor="middle" letter-spacing="0" >13.5</text>
<path d="M201.00 851.40A40.2 40.2 0 0 1 229.77 863.53L216.17 876.80A21.2 21.2 0 0 0 201.00 870.40Z" fill="#a1a6a9"/><path d="M229.63 863.38A40.2 40.2 0 0 1 180.66 926.28L190.28 909.89A21.2 21.2 0 0 0 216.10 876.72Z" fill="#efe3d2"/><path d="M180.85 926.38A40.2 40.2 0 0 1 201.00 851.40L201.00 870.40A21.2 21.2 0 0 0 190.37 909.94Z" fill="#b07f3f"/><circle cx="201" cy="891.6" r="21.2" fill="#fff"/><text transform="translate(201.20 885.70) scale(0.9 1)" font-size="8.5" fill="#444" font-weight="500" text-anchor="middle" letter-spacing="0" >남자</text><text transform="translate(170.40 886.50) scale(0.85 1)" font-size="9.5" fill="#fff" font-weight="bold" text-anchor="middle" letter-spacing="0" >41.6</text><text transform="translate(226.80 910.70) scale(0.85 1)" font-size="9.5" fill="#5b3418" font-weight="bold" text-anchor="middle" letter-spacing="0" >45.7</text><text transform="translate(212.00 866.90) scale(0.85 1)" font-size="9.5" fill="#fff" font-weight="bold" text-anchor="middle" letter-spacing="0" >12.6</text>
<path d="M297.00 851.40A40.2 40.2 0 0 1 328.56 866.70L313.64 878.47A21.2 21.2 0 0 0 297.00 870.40Z" fill="#a1a6a9"/><path d="M328.43 866.54A40.2 40.2 0 0 1 271.33 922.54L283.46 907.92A21.2 21.2 0 0 0 313.57 878.38Z" fill="#efe3d2"/><path d="M271.49 922.67A40.2 40.2 0 0 1 297.00 851.40L297.00 870.40A21.2 21.2 0 0 0 283.55 907.99Z" fill="#b07f3f"/><circle cx="297" cy="891.6" r="21.2" fill="#fff"/><text transform="translate(297.20 885.70) scale(0.9 1)" font-size="8.5" fill="#444" font-weight="500" text-anchor="middle" letter-spacing="0" >여자</text><text transform="translate(266.40 886.50) scale(0.85 1)" font-size="9.5" fill="#fff" font-weight="bold" text-anchor="middle" letter-spacing="0" >39.1</text><text transform="translate(323.60 910.70) scale(0.85 1)" font-size="9.5" fill="#5b3418" font-weight="bold" text-anchor="middle" letter-spacing="0" >46.7</text><text transform="translate(310.40 867.30) scale(0.85 1)" font-size="9.5" fill="#fff" font-weight="bold" text-anchor="middle" letter-spacing="0" >14.3</text>
<path d="M417.40 851.40A40.2 40.2 0 0 1 446.85 864.24L432.93 877.17A21.2 21.2 0 0 0 417.40 870.40Z" fill="#8b8f92"/><path d="M446.70 864.08A40.2 40.2 0 0 1 388.30 919.33L402.05 906.23A21.2 21.2 0 0 0 432.85 877.09Z" fill="#e3ccae"/><path d="M388.44 919.48A40.2 40.2 0 0 1 417.40 851.40L417.40 870.40A21.2 21.2 0 0 0 402.13 906.31Z" fill="#633a1b"/><circle cx="417.4" cy="891.6" r="21.2" fill="#fff"/><text transform="translate(417.00 885.50) scale(0.85 1)" font-size="8.0" fill="#5a5a5a" font-weight="500" text-anchor="middle" letter-spacing="0" ><tspan font-size="9.12">65</tspan>세 이상</text><text transform="translate(388.40 883.90) scale(0.85 1)" font-size="9.5" fill="#fff" font-weight="bold" text-anchor="middle" letter-spacing="0" >37.2</text><text transform="translate(443.40 912.10) scale(0.85 1)" font-size="9.5" fill="#5b3418" font-weight="bold" text-anchor="middle" letter-spacing="0" >49.8</text><text transform="translate(431.00 867.30) scale(0.85 1)" font-size="9.5" fill="#fff" font-weight="bold" text-anchor="middle" letter-spacing="0" >13.0</text>
<path d="M512.40 851.40A40.2 40.2 0 0 1 525.01 853.43L519.05 871.47A21.2 21.2 0 0 0 512.40 870.40Z" fill="#a1a6a9"/><path d="M524.81 853.36A40.2 40.2 0 1 1 494.09 927.39L502.74 910.47A21.2 21.2 0 1 0 518.94 871.44Z" fill="#efe3d2"/><path d="M494.28 927.48A40.2 40.2 0 0 1 512.40 851.40L512.40 870.40A21.2 21.2 0 0 0 502.84 910.52Z" fill="#b07f3f"/><circle cx="512.4" cy="891.6" r="21.2" fill="#fff"/><text transform="translate(512.60 885.70) scale(0.9 1)" font-size="8.5" fill="#444" font-weight="500" text-anchor="middle" letter-spacing="0" >남자</text><text transform="translate(482.60 890.70) scale(0.85 1)" font-size="9.5" fill="#fff" font-weight="bold" text-anchor="middle" letter-spacing="0" >42.6</text><text transform="translate(539.80 912.10) scale(0.85 1)" font-size="9.5" fill="#5b3418" font-weight="bold" text-anchor="middle" letter-spacing="0" >52.5</text><text transform="translate(518.80 863.70) scale(0.85 1)" font-size="9.5" fill="#fff" font-weight="bold" text-anchor="middle" letter-spacing="0" >5.0</text>
<path d="M609.00 851.40A40.2 40.2 0 0 1 647.98 881.76L629.55 886.41A21.2 21.2 0 0 0 609.00 870.40Z" fill="#a1a6a9"/><path d="M647.92 881.55A40.2 40.2 0 0 1 572.40 908.22L589.70 900.37A21.2 21.2 0 0 0 629.53 886.30Z" fill="#efe3d2"/><path d="M572.49 908.41A40.2 40.2 0 0 1 609.00 851.40L609.00 870.40A21.2 21.2 0 0 0 589.74 900.47Z" fill="#b07f3f"/><circle cx="609" cy="891.6" r="21.2" fill="#fff"/><text transform="translate(609.20 885.70) scale(0.9 1)" font-size="8.5" fill="#444" font-weight="500" text-anchor="middle" letter-spacing="0" >여자</text><text transform="translate(583.80 878.10) scale(0.85 1)" font-size="9.5" fill="#fff" font-weight="bold" text-anchor="middle" letter-spacing="0" >31.9</text><text transform="translate(619.40 923.30) scale(0.85 1)" font-size="9.5" fill="#5b3418" font-weight="bold" text-anchor="middle" letter-spacing="0" >47.2</text><text transform="translate(629.60 871.70) scale(0.85 1)" font-size="9.5" fill="#fff" font-weight="bold" text-anchor="middle" letter-spacing="0" >21.0</text>
<clipPath id="fc1"><circle cx="105" cy="891.6" r="21.3"/></clipPath>
<g clip-path="url(#fc1)"><g transform="translate(85.00 880.00) scale(0.05714)" stroke="#94643a" stroke-width="11" stroke-linejoin="round" stroke-linecap="round" fill="#fff">
<path d="M130 560C130 500 170 480 222 480C280 480 330 510 340 580Z" fill="#fff"/>
<path d="M105 460C110 410 150 370 190 360H255C295 370 330 410 338 462C330 490 295 492 270 476L245 440H200L175 476C150 494 110 490 105 460Z" fill="#e6d0b2"/>
<path d="M170 290C168 250 190 228 222 228C256 228 278 250 276 290C274 330 252 352 222 352C192 352 172 330 170 290Z" fill="#fff"/>
<path d="M150 300C140 250 170 212 222 212C276 212 306 250 296 300C284 270 262 252 240 250C212 254 176 270 150 300Z" fill="#fff"/>
<path d="M200 300L222 330L244 300" fill="none" stroke-width="9"/>
<path d="M372 470H552V580H372Z" fill="#fff"/>
<path d="M345 462C345 410 365 375 405 360C440 350 485 350 520 360C570 380 598 420 600 465C590 492 545 492 505 470L480 430H448L425 470C395 494 350 492 345 462Z" fill="#e6d0b2"/>
<path d="M438 410V580H466V410Z" fill="#c9a57c"/>
<path d="M405 275C403 245 425 232 460 232C496 232 518 245 516 275C514 315 492 338 460 338C428 338 407 315 405 275Z" fill="#fff"/>
<path d="M408 212C405 178 424 160 462 160C502 160 520 178 518 212Z" fill="#c9a57c"/>
<path d="M370 214H552Q562 214 560 226Q558 240 546 240H376Q364 240 364 228Q364 214 370 214Z" fill="#c9a57c"/>
<path d="M445 305C452 311 470 311 477 305" fill="none" stroke-width="9"/>
<circle cx="440" cy="280" r="6" fill="#94643a" stroke="none"/><circle cx="482" cy="280" r="6" fill="#94643a" stroke="none"/>
</g></g>
<clipPath id="fc2"><circle cx="201" cy="891.6" r="21.3"/></clipPath>
<g clip-path="url(#fc2)"><g transform="translate(181.00 872.00) scale(0.05714)" stroke="#94643a" stroke-width="11" stroke-linejoin="round" stroke-linecap="round" fill="#fff">
<path d="M170 720L232 548H468L530 720Z" fill="#e6d0b2"/>
<path d="M320 560L350 600L380 560Z" fill="#fff"/>
<path d="M272 440C270 390 300 360 350 360C400 360 430 390 428 440C426 500 396 535 350 535C304 535 274 500 272 440Z" fill="#fff"/>
<path d="M256 440C236 380 280 322 352 322C424 322 466 380 446 440C436 410 410 392 390 388C360 396 300 398 272 404C262 414 258 428 256 440Z" fill="#fff"/>
<path d="M240 545C236 510 250 480 272 480C290 490 296 520 290 548ZM460 545C464 510 450 480 428 480C410 490 404 520 410 548Z" fill="#fff"/>
<circle cx="326" cy="446" r="6" fill="#94643a" stroke="none"/><circle cx="376" cy="446" r="6" fill="#94643a" stroke="none"/>
<path d="M334 492C342 498 360 498 368 492" fill="none" stroke-width="9"/>
</g></g>
<clipPath id="fc3"><circle cx="297" cy="891.6" r="21.3"/></clipPath>
<g clip-path="url(#fc3)"><g transform="translate(277.00 872.00) scale(0.05714)" stroke="#94643a" stroke-width="11" stroke-linejoin="round" stroke-linecap="round" fill="#fff">
<path d="M170 720L232 548H468L530 720Z" fill="#e6d0b2"/>
<path d="M318 560L350 700L382 560Z" fill="#fff"/>
<path d="M272 440C270 390 300 360 350 360C400 360 430 390 428 440C426 500 396 535 350 535C304 535 274 500 272 440Z" fill="#fff"/>
<path d="M252 470C236 400 270 322 350 322C430 322 462 400 446 470C440 440 420 400 395 385C370 400 300 410 270 420C258 436 254 452 252 470Z" fill="#fff"/><path d="M245 440C230 470 236 500 250 520M452 440C466 470 462 500 448 520" fill="none"/>
<path d="M240 545C236 510 250 480 272 480C290 490 296 520 290 548ZM460 545C464 510 450 480 428 480C410 490 404 520 410 548Z" fill="#fff"/>
<circle cx="326" cy="446" r="6" fill="#94643a" stroke="none"/><circle cx="376" cy="446" r="6" fill="#94643a" stroke="none"/>
<path d="M334 492C342 498 360 498 368 492" fill="none" stroke-width="9"/>
</g></g>
<clipPath id="fc4"><circle cx="417.4" cy="891.6" r="21.3"/></clipPath>
<g clip-path="url(#fc4)"><g transform="translate(397.40 880.00) scale(0.05714)" stroke="#94643a" stroke-width="11" stroke-linejoin="round" stroke-linecap="round" fill="#fff">
<path d="M130 560C130 500 170 480 222 480C280 480 330 510 340 580Z" fill="#fff"/>
<path d="M105 460C110 410 150 370 190 360H255C295 370 330 410 338 462C330 490 295 492 270 476L245 440H200L175 476C150 494 110 490 105 460Z" fill="#e6d0b2"/>
<path d="M170 290C168 250 190 228 222 228C256 228 278 250 276 290C274 330 252 352 222 352C192 352 172 330 170 290Z" fill="#fff"/>
<path d="M150 300C140 250 170 212 222 212C276 212 306 250 296 300C284 270 262 252 240 250C212 254 176 270 150 300Z" fill="#fff"/>
<path d="M200 300L222 330L244 300" fill="none" stroke-width="9"/>
<path d="M372 470H552V580H372Z" fill="#fff"/>
<path d="M345 462C345 410 365 375 405 360C440 350 485 350 520 360C570 380 598 420 600 465C590 492 545 492 505 470L480 430H448L425 470C395 494 350 492 345 462Z" fill="#e6d0b2"/>
<path d="M438 410V580H466V410Z" fill="#c9a57c"/>
<path d="M405 275C403 245 425 232 460 232C496 232 518 245 516 275C514 315 492 338 460 338C428 338 407 315 405 275Z" fill="#fff"/>
<path d="M408 212C405 178 424 160 462 160C502 160 520 178 518 212Z" fill="#c9a57c"/>
<path d="M370 214H552Q562 214 560 226Q558 240 546 240H376Q364 240 364 228Q364 214 370 214Z" fill="#c9a57c"/>
<path d="M445 305C452 311 470 311 477 305" fill="none" stroke-width="9"/>
<circle cx="440" cy="280" r="6" fill="#94643a" stroke="none"/><circle cx="482" cy="280" r="6" fill="#94643a" stroke="none"/>
</g></g>
<clipPath id="fc5"><circle cx="512.4" cy="891.6" r="21.3"/></clipPath>
<g clip-path="url(#fc5)"><g transform="translate(492.40 872.00) scale(0.05714)" stroke="#94643a" stroke-width="11" stroke-linejoin="round" stroke-linecap="round" fill="#fff">
<path d="M170 720L232 548H468L530 720Z" fill="#e6d0b2"/>
<path d="M320 560L350 600L380 560Z" fill="#fff"/>
<path d="M272 440C270 390 300 360 350 360C400 360 430 390 428 440C426 500 396 535 350 535C304 535 274 500 272 440Z" fill="#fff"/>
<path d="M256 440C236 380 280 322 352 322C424 322 466 380 446 440C436 410 410 392 390 388C360 396 300 398 272 404C262 414 258 428 256 440Z" fill="#fff"/>
<path d="M240 545C236 510 250 480 272 480C290 490 296 520 290 548ZM460 545C464 510 450 480 428 480C410 490 404 520 410 548Z" fill="#fff"/>
<circle cx="326" cy="446" r="6" fill="#94643a" stroke="none"/><circle cx="376" cy="446" r="6" fill="#94643a" stroke="none"/>
<path d="M334 492C342 498 360 498 368 492" fill="none" stroke-width="9"/>
</g></g>
<clipPath id="fc6"><circle cx="609" cy="891.6" r="21.3"/></clipPath>
<g clip-path="url(#fc6)"><g transform="translate(589.00 872.00) scale(0.05714)" stroke="#94643a" stroke-width="11" stroke-linejoin="round" stroke-linecap="round" fill="#fff">
<path d="M170 720L232 548H468L530 720Z" fill="#e6d0b2"/>
<path d="M318 560L350 700L382 560Z" fill="#fff"/>
<path d="M272 440C270 390 300 360 350 360C400 360 430 390 428 440C426 500 396 535 350 535C304 535 274 500 272 440Z" fill="#fff"/>
<path d="M252 470C236 400 270 322 350 322C430 322 462 400 446 470C440 440 420 400 395 385C370 400 300 410 270 420C258 436 254 452 252 470Z" fill="#fff"/><path d="M245 440C230 470 236 500 250 520M452 440C466 470 462 500 448 520" fill="none"/>
<path d="M240 545C236 510 250 480 272 480C290 490 296 520 290 548ZM460 545C464 510 450 480 428 480C410 490 404 520 410 548Z" fill="#fff"/>
<circle cx="326" cy="446" r="6" fill="#94643a" stroke="none"/><circle cx="376" cy="446" r="6" fill="#94643a" stroke="none"/>
<path d="M334 492C342 498 360 498 368 492" fill="none" stroke-width="9"/>
</g></g>
<path id="frame" d="M0.7 983V0.6H700M699.5 0V982.5H0" fill="none" stroke="#fff" stroke-opacity="0.45" stroke-width="1.3"/>
</svg>
</body></html>
